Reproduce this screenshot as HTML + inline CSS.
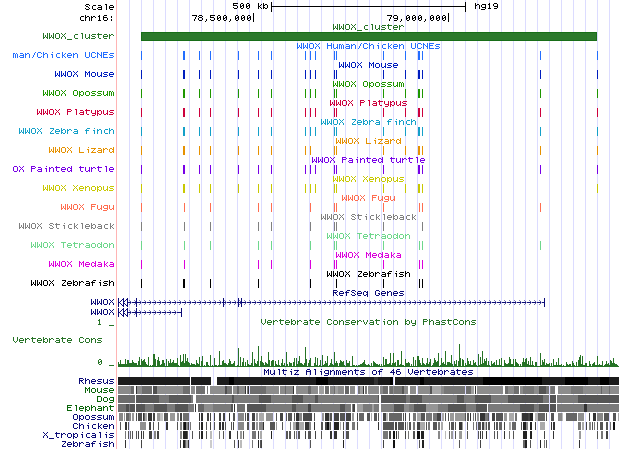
<!DOCTYPE html>
<html><head><meta charset="utf-8"><style>
html,body{margin:0;padding:0;background:#fff;width:620px;height:449px;overflow:hidden}
svg{display:block;position:absolute;left:0;top:0}
text{font-family:"Liberation Mono",monospace;font-size:10px}
</style></head><body>
<svg width="620" height="449" viewBox="0 0 620 449" shape-rendering="crispEdges">
<defs><path id="c44" d="M2 4h1v1h-1zM2 5h1v1h-1zM1 6h1v1h-1z"/><path id="c47" d="M4 0h1v1h-1zM3 1h1v1h-1zM3 2h1v1h-1zM2 3h1v1h-1zM2 4h1v1h-1zM1 5h1v1h-1z"/><path id="c48" d="M2 0h2v1h-2zM1 1h1v1h-1zM4 1h1v1h-1zM1 2h1v1h-1zM3 2h2v1h-2zM1 3h2v1h-2zM4 3h1v1h-1zM1 4h1v1h-1zM4 4h1v1h-1zM2 5h2v1h-2z"/><path id="c49" d="M2 0h1v1h-1zM1 1h2v1h-2zM2 2h1v1h-1zM2 3h1v1h-1zM2 4h1v1h-1zM1 5h3v1h-3z"/><path id="c52" d="M3 0h1v1h-1zM2 1h2v1h-2zM1 2h1v1h-1zM3 2h1v1h-1zM0 3h5v1h-5zM3 4h1v1h-1zM3 5h1v1h-1z"/><path id="c53" d="M0 0h5v1h-5zM0 1h1v1h-1zM0 2h4v1h-4zM4 3h1v1h-1zM0 4h1v1h-1zM4 4h1v1h-1zM1 5h3v1h-3z"/><path id="c54" d="M1 0h3v1h-3zM0 1h1v1h-1zM0 2h4v1h-4zM0 3h1v1h-1zM4 3h1v1h-1zM0 4h1v1h-1zM4 4h1v1h-1zM1 5h3v1h-3z"/><path id="c55" d="M0 0h5v1h-5zM4 1h1v1h-1zM3 2h1v1h-1zM3 3h1v1h-1zM2 4h1v1h-1zM2 5h1v1h-1z"/><path id="c56" d="M1 0h3v1h-3zM0 1h1v1h-1zM4 1h1v1h-1zM1 2h3v1h-3zM0 3h1v1h-1zM4 3h1v1h-1zM0 4h1v1h-1zM4 4h1v1h-1zM1 5h3v1h-3z"/><path id="c57" d="M1 0h3v1h-3zM0 1h1v1h-1zM4 1h1v1h-1zM0 2h1v1h-1zM4 2h1v1h-1zM1 3h4v1h-4zM4 4h1v1h-1zM1 5h3v1h-3z"/><path id="c58" d="M2 1h1v1h-1zM2 2h1v1h-1zM2 4h1v1h-1zM2 5h1v1h-1z"/><path id="c65" d="M1 0h3v1h-3zM0 1h1v1h-1zM4 1h1v1h-1zM0 2h5v1h-5zM0 3h1v1h-1zM4 3h1v1h-1zM0 4h1v1h-1zM4 4h1v1h-1zM0 5h1v1h-1zM4 5h1v1h-1z"/><path id="c67" d="M1 0h3v1h-3zM0 1h1v1h-1zM4 1h1v1h-1zM0 2h1v1h-1zM0 3h1v1h-1zM0 4h1v1h-1zM4 4h1v1h-1zM1 5h3v1h-3z"/><path id="c68" d="M0 0h4v1h-4zM0 1h1v1h-1zM4 1h1v1h-1zM0 2h1v1h-1zM4 2h1v1h-1zM0 3h1v1h-1zM4 3h1v1h-1zM0 4h1v1h-1zM4 4h1v1h-1zM0 5h4v1h-4z"/><path id="c69" d="M0 0h5v1h-5zM0 1h1v1h-1zM0 2h4v1h-4zM0 3h1v1h-1zM0 4h1v1h-1zM0 5h5v1h-5z"/><path id="c70" d="M0 0h5v1h-5zM0 1h1v1h-1zM0 2h4v1h-4zM0 3h1v1h-1zM0 4h1v1h-1zM0 5h1v1h-1z"/><path id="c71" d="M1 0h3v1h-3zM0 1h1v1h-1zM4 1h1v1h-1zM0 2h1v1h-1zM0 3h1v1h-1zM3 3h2v1h-2zM0 4h1v1h-1zM4 4h1v1h-1zM1 5h3v1h-3z"/><path id="c72" d="M0 0h1v1h-1zM4 0h1v1h-1zM0 1h1v1h-1zM4 1h1v1h-1zM0 2h5v1h-5zM0 3h1v1h-1zM4 3h1v1h-1zM0 4h1v1h-1zM4 4h1v1h-1zM0 5h1v1h-1zM4 5h1v1h-1z"/><path id="c76" d="M0 0h1v1h-1zM0 1h1v1h-1zM0 2h1v1h-1zM0 3h1v1h-1zM0 4h1v1h-1zM0 5h5v1h-5z"/><path id="c77" d="M0 0h1v1h-1zM4 0h1v1h-1zM0 1h2v1h-2zM3 1h2v1h-2zM0 2h1v1h-1zM2 2h1v1h-1zM4 2h1v1h-1zM0 3h1v1h-1zM2 3h1v1h-1zM4 3h1v1h-1zM0 4h1v1h-1zM4 4h1v1h-1zM0 5h1v1h-1zM4 5h1v1h-1z"/><path id="c78" d="M0 0h1v1h-1zM4 0h1v1h-1zM0 1h2v1h-2zM4 1h1v1h-1zM0 2h1v1h-1zM2 2h1v1h-1zM4 2h1v1h-1zM0 3h1v1h-1zM3 3h2v1h-2zM0 4h1v1h-1zM4 4h1v1h-1zM0 5h1v1h-1zM4 5h1v1h-1z"/><path id="c79" d="M1 0h3v1h-3zM0 1h1v1h-1zM4 1h1v1h-1zM0 2h1v1h-1zM4 2h1v1h-1zM0 3h1v1h-1zM4 3h1v1h-1zM0 4h1v1h-1zM4 4h1v1h-1zM1 5h3v1h-3z"/><path id="c80" d="M0 0h4v1h-4zM0 1h1v1h-1zM4 1h1v1h-1zM0 2h4v1h-4zM0 3h1v1h-1zM0 4h1v1h-1zM0 5h1v1h-1z"/><path id="c82" d="M0 0h4v1h-4zM0 1h1v1h-1zM4 1h1v1h-1zM0 2h4v1h-4zM0 3h1v1h-1zM2 3h1v1h-1zM0 4h1v1h-1zM3 4h1v1h-1zM0 5h1v1h-1zM4 5h1v1h-1z"/><path id="c83" d="M1 0h3v1h-3zM0 1h1v1h-1zM4 1h1v1h-1zM1 2h2v1h-2zM3 3h1v1h-1zM0 4h1v1h-1zM4 4h1v1h-1zM1 5h3v1h-3z"/><path id="c84" d="M0 0h5v1h-5zM2 1h1v1h-1zM2 2h1v1h-1zM2 3h1v1h-1zM2 4h1v1h-1zM2 5h1v1h-1z"/><path id="c85" d="M0 0h1v1h-1zM4 0h1v1h-1zM0 1h1v1h-1zM4 1h1v1h-1zM0 2h1v1h-1zM4 2h1v1h-1zM0 3h1v1h-1zM4 3h1v1h-1zM0 4h1v1h-1zM4 4h1v1h-1zM1 5h3v1h-3z"/><path id="c86" d="M0 0h1v1h-1zM4 0h1v1h-1zM0 1h1v1h-1zM4 1h1v1h-1zM0 2h1v1h-1zM4 2h1v1h-1zM0 3h1v1h-1zM4 3h1v1h-1zM1 4h1v1h-1zM3 4h1v1h-1zM2 5h1v1h-1z"/><path id="c87" d="M0 0h1v1h-1zM4 0h1v1h-1zM0 1h1v1h-1zM4 1h1v1h-1zM0 2h1v1h-1zM2 2h1v1h-1zM4 2h1v1h-1zM0 3h1v1h-1zM2 3h1v1h-1zM4 3h1v1h-1zM0 4h2v1h-2zM3 4h2v1h-2zM0 5h1v1h-1zM4 5h1v1h-1z"/><path id="c88" d="M0 0h1v1h-1zM4 0h1v1h-1zM1 1h1v1h-1zM3 1h1v1h-1zM2 2h1v1h-1zM1 3h1v1h-1zM3 3h1v1h-1zM0 4h1v1h-1zM4 4h1v1h-1zM0 5h1v1h-1zM4 5h1v1h-1z"/><path id="c90" d="M1 0h4v1h-4zM4 1h1v1h-1zM3 2h1v1h-1zM2 3h1v1h-1zM1 4h1v1h-1zM1 5h4v1h-4z"/><path id="c95" d="M0 6h5v1h-5z"/><path id="c97" d="M1 1h3v1h-3zM4 2h1v1h-1zM1 3h4v1h-4zM0 4h1v1h-1zM4 4h1v1h-1zM1 5h4v1h-4z"/><path id="c98" d="M0 0h1v1h-1zM0 1h1v1h-1zM2 1h2v1h-2zM0 2h2v1h-2zM4 2h1v1h-1zM0 3h1v1h-1zM4 3h1v1h-1zM0 4h2v1h-2zM4 4h1v1h-1zM0 5h1v1h-1zM2 5h2v1h-2z"/><path id="c99" d="M2 1h3v1h-3zM1 2h1v1h-1zM1 3h1v1h-1zM1 4h1v1h-1zM2 5h3v1h-3z"/><path id="c100" d="M4 0h1v1h-1zM1 1h2v1h-2zM4 1h1v1h-1zM0 2h1v1h-1zM3 2h2v1h-2zM0 3h1v1h-1zM4 3h1v1h-1zM0 4h1v1h-1zM3 4h2v1h-2zM1 5h2v1h-2zM4 5h1v1h-1z"/><path id="c101" d="M1 1h3v1h-3zM0 2h1v1h-1zM4 2h1v1h-1zM0 3h5v1h-5zM0 4h1v1h-1zM1 5h3v1h-3z"/><path id="c102" d="M2 0h3v1h-3zM1 1h1v1h-1zM0 2h4v1h-4zM1 3h1v1h-1zM1 4h1v1h-1zM1 5h1v1h-1z"/><path id="c103" d="M1 1h4v1h-4zM0 2h1v1h-1zM4 2h1v1h-1zM0 3h1v1h-1zM4 3h1v1h-1zM1 4h4v1h-4zM4 5h1v1h-1zM0 6h4v1h-4z"/><path id="c104" d="M0 0h1v1h-1zM0 1h1v1h-1zM2 1h2v1h-2zM0 2h2v1h-2zM4 2h1v1h-1zM0 3h1v1h-1zM4 3h1v1h-1zM0 4h1v1h-1zM4 4h1v1h-1zM0 5h1v1h-1zM4 5h1v1h-1z"/><path id="c105" d="M3 0h1v1h-1zM2 2h2v1h-2zM3 3h1v1h-1zM3 4h1v1h-1zM3 5h1v1h-1z"/><path id="c107" d="M1 0h1v1h-1zM1 1h1v1h-1zM4 1h1v1h-1zM1 2h1v1h-1zM3 2h1v1h-1zM1 3h2v1h-2zM1 4h1v1h-1zM3 4h1v1h-1zM1 5h1v1h-1zM4 5h1v1h-1z"/><path id="c108" d="M2 0h2v1h-2zM3 1h1v1h-1zM3 2h1v1h-1zM3 3h1v1h-1zM3 4h1v1h-1zM3 5h1v1h-1z"/><path id="c109" d="M0 1h2v1h-2zM3 1h1v1h-1zM0 2h1v1h-1zM2 2h1v1h-1zM4 2h1v1h-1zM0 3h1v1h-1zM2 3h1v1h-1zM4 3h1v1h-1zM0 4h1v1h-1zM2 4h1v1h-1zM4 4h1v1h-1zM0 5h1v1h-1zM2 5h1v1h-1zM4 5h1v1h-1z"/><path id="c110" d="M0 1h1v1h-1zM2 1h2v1h-2zM0 2h2v1h-2zM4 2h1v1h-1zM0 3h1v1h-1zM4 3h1v1h-1zM0 4h1v1h-1zM4 4h1v1h-1zM0 5h1v1h-1zM4 5h1v1h-1z"/><path id="c111" d="M1 1h3v1h-3zM0 2h1v1h-1zM4 2h1v1h-1zM0 3h1v1h-1zM4 3h1v1h-1zM0 4h1v1h-1zM4 4h1v1h-1zM1 5h3v1h-3z"/><path id="c112" d="M0 1h1v1h-1zM2 1h2v1h-2zM0 2h2v1h-2zM4 2h1v1h-1zM0 3h1v1h-1zM4 3h1v1h-1zM0 4h2v1h-2zM4 4h1v1h-1zM0 5h1v1h-1zM2 5h2v1h-2zM0 6h1v1h-1z"/><path id="c113" d="M1 1h2v1h-2zM4 1h1v1h-1zM0 2h1v1h-1zM3 2h2v1h-2zM0 3h1v1h-1zM4 3h1v1h-1zM0 4h1v1h-1zM3 4h2v1h-2zM1 5h2v1h-2zM4 5h1v1h-1zM4 6h1v1h-1z"/><path id="c114" d="M0 1h1v1h-1zM2 1h2v1h-2zM0 2h2v1h-2zM4 2h1v1h-1zM0 3h1v1h-1zM0 4h1v1h-1zM0 5h1v1h-1z"/><path id="c115" d="M1 1h4v1h-4zM0 2h1v1h-1zM1 3h3v1h-3zM4 4h1v1h-1zM0 5h4v1h-4z"/><path id="c116" d="M1 0h1v1h-1zM0 1h5v1h-5zM1 2h1v1h-1zM1 3h1v1h-1zM1 4h1v1h-1zM2 5h2v1h-2z"/><path id="c117" d="M0 1h1v1h-1zM4 1h1v1h-1zM0 2h1v1h-1zM4 2h1v1h-1zM0 3h1v1h-1zM4 3h1v1h-1zM0 4h1v1h-1zM3 4h2v1h-2zM1 5h2v1h-2zM4 5h1v1h-1z"/><path id="c118" d="M0 1h1v1h-1zM4 1h1v1h-1zM0 2h1v1h-1zM4 2h1v1h-1zM1 3h1v1h-1zM3 3h1v1h-1zM1 4h1v1h-1zM3 4h1v1h-1zM2 5h1v1h-1z"/><path id="c121" d="M0 1h1v1h-1zM4 1h1v1h-1zM0 2h1v1h-1zM4 2h1v1h-1zM0 3h1v1h-1zM4 3h1v1h-1zM1 4h4v1h-4zM4 5h1v1h-1zM1 6h3v1h-3z"/><path id="c122" d="M0 1h5v1h-5zM3 2h1v1h-1zM2 3h1v1h-1zM1 4h1v1h-1zM0 5h5v1h-5z"/></defs>
<path d="M129 0v449M141 0v449M153 0v449M165 0v449M177 0v449M189 0v449M201 0v449M213 0v449M225 0v449M237 0v449M249 0v449M261 0v449M273 0v449M285 0v449M297 0v449M309 0v449M321 0v449M333 0v449M345 0v449M357 0v449M369 0v449M381 0v449M393 0v449M405 0v449M417 0v449M429 0v449M441 0v449M453 0v449M465 0v449M477 0v449M489 0v449M501 0v449M513 0v449M525 0v449M537 0v449M549 0v449M561 0v449M573 0v449M585 0v449M597 0v449M609 0v449" stroke="#dcdcff" stroke-width="1" transform="translate(0.5,0)" fill="none"/>
<rect x="116" y="0" width="1" height="449" fill="#ffb4b4"/>
<g fill="#000" transform="translate(85,4)"><use href="#c83" x="0"/><use href="#c99" x="6"/><use href="#c97" x="12"/><use href="#c108" x="18"/><use href="#c101" x="24"/></g>
<g fill="#000" transform="translate(233,3)"><use href="#c53" x="0"/><use href="#c48" x="6"/><use href="#c48" x="12"/><use href="#c107" x="24"/><use href="#c98" x="30"/></g>
<rect x="271" y="2" width="1" height="10" fill="#000"/>
<rect x="465" y="2" width="1" height="10" fill="#000"/>
<rect x="271" y="6" width="195" height="1" fill="#000"/>
<g fill="#000" transform="translate(475,3)"><use href="#c104" x="0"/><use href="#c103" x="6"/><use href="#c49" x="12"/><use href="#c57" x="18"/></g>
<g fill="#000" transform="translate(79,15)"><use href="#c99" x="0"/><use href="#c104" x="6"/><use href="#c114" x="12"/><use href="#c49" x="18"/><use href="#c54" x="24"/><use href="#c58" x="30"/></g>
<g fill="#000" transform="translate(192,15)"><use href="#c55" x="0"/><use href="#c56" x="6"/><use href="#c44" x="12"/><use href="#c53" x="18"/><use href="#c48" x="24"/><use href="#c48" x="30"/><use href="#c44" x="36"/><use href="#c48" x="42"/><use href="#c48" x="48"/><use href="#c48" x="54"/></g>
<rect x="253" y="13" width="1" height="9" fill="#000"/>
<g fill="#000" transform="translate(387,15)"><use href="#c55" x="0"/><use href="#c57" x="6"/><use href="#c44" x="12"/><use href="#c48" x="18"/><use href="#c48" x="24"/><use href="#c48" x="30"/><use href="#c44" x="36"/><use href="#c48" x="42"/><use href="#c48" x="48"/><use href="#c48" x="54"/></g>
<rect x="448" y="13" width="1" height="9" fill="#000"/>
<g fill="#267326" transform="translate(333,24)"><use href="#c87" x="0"/><use href="#c87" x="6"/><use href="#c79" x="12"/><use href="#c88" x="18"/><use href="#c95" x="24"/><use href="#c99" x="30"/><use href="#c108" x="36"/><use href="#c117" x="42"/><use href="#c115" x="48"/><use href="#c116" x="54"/><use href="#c101" x="60"/><use href="#c114" x="66"/></g>
<g fill="#267326" transform="translate(43,33)"><use href="#c87" x="0"/><use href="#c87" x="6"/><use href="#c79" x="12"/><use href="#c88" x="18"/><use href="#c95" x="24"/><use href="#c99" x="30"/><use href="#c108" x="36"/><use href="#c117" x="42"/><use href="#c115" x="48"/><use href="#c116" x="54"/><use href="#c101" x="60"/><use href="#c114" x="66"/></g>
<rect x="141" y="32" width="456" height="9" fill="#186e18"/>
<rect x="142" y="33" width="454" height="7" fill="#2c792c"/>
<g fill="#236eff" transform="translate(297,43)"><use href="#c87" x="0"/><use href="#c87" x="6"/><use href="#c79" x="12"/><use href="#c88" x="18"/><use href="#c72" x="30"/><use href="#c117" x="36"/><use href="#c109" x="42"/><use href="#c97" x="48"/><use href="#c110" x="54"/><use href="#c47" x="60"/><use href="#c67" x="66"/><use href="#c104" x="72"/><use href="#c105" x="78"/><use href="#c99" x="84"/><use href="#c107" x="90"/><use href="#c101" x="96"/><use href="#c110" x="102"/><use href="#c85" x="114"/><use href="#c67" x="120"/><use href="#c78" x="126"/><use href="#c69" x="132"/><use href="#c115" x="138"/></g>
<g fill="#236eff" transform="translate(13,52)"><use href="#c109" x="0"/><use href="#c97" x="6"/><use href="#c110" x="12"/><use href="#c47" x="18"/><use href="#c67" x="24"/><use href="#c104" x="30"/><use href="#c105" x="36"/><use href="#c99" x="42"/><use href="#c107" x="48"/><use href="#c101" x="54"/><use href="#c110" x="60"/><use href="#c85" x="72"/><use href="#c67" x="78"/><use href="#c78" x="84"/><use href="#c69" x="90"/><use href="#c115" x="96"/></g>
<path d="M141 51h1v9h-1zM183 51h2v9h-2zM199 51h1v9h-1zM210 51h1v9h-1zM238 51h1v9h-1zM258 51h1v9h-1zM271 51h1v9h-1zM305 51h1v9h-1zM310 51h1v9h-1zM315 51h1v9h-1zM334 51h1v9h-1zM336 51h1v9h-1zM383 51h1v9h-1zM405 51h1v9h-1zM418 51h2v9h-2zM422 51h1v9h-1zM540 51h1v9h-1zM597 51h1v9h-1z" fill="#236eff"/>
<g fill="#001ebe" transform="translate(339,62)"><use href="#c87" x="0"/><use href="#c87" x="6"/><use href="#c79" x="12"/><use href="#c88" x="18"/><use href="#c77" x="30"/><use href="#c111" x="36"/><use href="#c117" x="42"/><use href="#c115" x="48"/><use href="#c101" x="54"/></g>
<g fill="#001ebe" transform="translate(55,71)"><use href="#c87" x="0"/><use href="#c87" x="6"/><use href="#c79" x="12"/><use href="#c88" x="18"/><use href="#c77" x="30"/><use href="#c111" x="36"/><use href="#c117" x="42"/><use href="#c115" x="48"/><use href="#c101" x="54"/></g>
<path d="M141 70h1v9h-1zM183 70h2v9h-2zM199 70h1v9h-1zM210 70h1v9h-1zM238 70h1v9h-1zM258 70h1v9h-1zM271 70h1v9h-1zM305 70h1v9h-1zM310 70h1v9h-1zM315 70h1v9h-1zM334 70h1v9h-1zM336 70h1v9h-1zM383 70h1v9h-1zM405 70h1v9h-1zM418 70h2v9h-2zM422 70h1v9h-1zM540 70h1v9h-1zM597 70h1v9h-1z" fill="#001ebe"/>
<g fill="#1e9600" transform="translate(333,81)"><use href="#c87" x="0"/><use href="#c87" x="6"/><use href="#c79" x="12"/><use href="#c88" x="18"/><use href="#c79" x="30"/><use href="#c112" x="36"/><use href="#c111" x="42"/><use href="#c115" x="48"/><use href="#c115" x="54"/><use href="#c117" x="60"/><use href="#c109" x="66"/></g>
<g fill="#1e9600" transform="translate(43,90)"><use href="#c87" x="0"/><use href="#c87" x="6"/><use href="#c79" x="12"/><use href="#c88" x="18"/><use href="#c79" x="30"/><use href="#c112" x="36"/><use href="#c111" x="42"/><use href="#c115" x="48"/><use href="#c115" x="54"/><use href="#c117" x="60"/><use href="#c109" x="66"/></g>
<path d="M141 89h1v9h-1zM183 89h2v9h-2zM199 89h1v9h-1zM210 89h1v9h-1zM238 89h1v9h-1zM258 89h1v9h-1zM271 89h1v9h-1zM305 89h1v9h-1zM310 89h1v9h-1zM315 89h1v9h-1zM334 89h1v9h-1zM336 89h1v9h-1zM383 89h1v9h-1zM405 89h1v9h-1zM418 89h2v9h-2zM422 89h1v9h-1zM540 89h1v9h-1zM597 89h1v9h-1z" fill="#1e9600"/>
<g fill="#cd003c" transform="translate(330,100)"><use href="#c87" x="0"/><use href="#c87" x="6"/><use href="#c79" x="12"/><use href="#c88" x="18"/><use href="#c80" x="30"/><use href="#c108" x="36"/><use href="#c97" x="42"/><use href="#c116" x="48"/><use href="#c121" x="54"/><use href="#c112" x="60"/><use href="#c117" x="66"/><use href="#c115" x="72"/></g>
<g fill="#cd003c" transform="translate(37,109)"><use href="#c87" x="0"/><use href="#c87" x="6"/><use href="#c79" x="12"/><use href="#c88" x="18"/><use href="#c80" x="30"/><use href="#c108" x="36"/><use href="#c97" x="42"/><use href="#c116" x="48"/><use href="#c121" x="54"/><use href="#c112" x="60"/><use href="#c117" x="66"/><use href="#c115" x="72"/></g>
<path d="M141 108h1v9h-1zM183 108h2v9h-2zM199 108h1v9h-1zM210 108h1v9h-1zM238 108h1v9h-1zM258 108h1v9h-1zM271 108h1v9h-1zM305 108h1v9h-1zM310 108h1v9h-1zM315 108h1v9h-1zM334 108h1v9h-1zM336 108h1v9h-1zM383 108h1v9h-1zM405 108h1v9h-1zM418 108h2v9h-2zM422 108h1v9h-1zM540 108h1v9h-1zM597 108h1v9h-1z" fill="#cd003c"/>
<g fill="#14a0c8" transform="translate(321,119)"><use href="#c87" x="0"/><use href="#c87" x="6"/><use href="#c79" x="12"/><use href="#c88" x="18"/><use href="#c90" x="30"/><use href="#c101" x="36"/><use href="#c98" x="42"/><use href="#c114" x="48"/><use href="#c97" x="54"/><use href="#c102" x="66"/><use href="#c105" x="72"/><use href="#c110" x="78"/><use href="#c99" x="84"/><use href="#c104" x="90"/></g>
<g fill="#14a0c8" transform="translate(19,128)"><use href="#c87" x="0"/><use href="#c87" x="6"/><use href="#c79" x="12"/><use href="#c88" x="18"/><use href="#c90" x="30"/><use href="#c101" x="36"/><use href="#c98" x="42"/><use href="#c114" x="48"/><use href="#c97" x="54"/><use href="#c102" x="66"/><use href="#c105" x="72"/><use href="#c110" x="78"/><use href="#c99" x="84"/><use href="#c104" x="90"/></g>
<path d="M141 127h1v9h-1zM183 127h2v9h-2zM199 127h1v9h-1zM210 127h1v9h-1zM238 127h1v9h-1zM258 127h1v9h-1zM271 127h1v9h-1zM305 127h1v9h-1zM310 127h1v9h-1zM315 127h1v9h-1zM334 127h1v9h-1zM336 127h1v9h-1zM383 127h1v9h-1zM405 127h1v9h-1zM418 127h2v9h-2zM422 127h1v9h-1zM540 127h1v9h-1zM597 127h1v9h-1z" fill="#14a0c8"/>
<g fill="#e69100" transform="translate(336,138)"><use href="#c87" x="0"/><use href="#c87" x="6"/><use href="#c79" x="12"/><use href="#c88" x="18"/><use href="#c76" x="30"/><use href="#c105" x="36"/><use href="#c122" x="42"/><use href="#c97" x="48"/><use href="#c114" x="54"/><use href="#c100" x="60"/></g>
<g fill="#e69100" transform="translate(49,147)"><use href="#c87" x="0"/><use href="#c87" x="6"/><use href="#c79" x="12"/><use href="#c88" x="18"/><use href="#c76" x="30"/><use href="#c105" x="36"/><use href="#c122" x="42"/><use href="#c97" x="48"/><use href="#c114" x="54"/><use href="#c100" x="60"/></g>
<path d="M141 146h1v9h-1zM183 146h2v9h-2zM199 146h1v9h-1zM210 146h1v9h-1zM238 146h1v9h-1zM258 146h1v9h-1zM271 146h1v9h-1zM305 146h1v9h-1zM310 146h1v9h-1zM334 146h1v9h-1zM336 146h1v9h-1zM383 146h1v9h-1zM405 146h1v9h-1zM418 146h2v9h-2zM422 146h1v9h-1zM540 146h1v9h-1zM597 146h1v9h-1z" fill="#e69100"/>
<g fill="#7800e6" transform="translate(312,157)"><use href="#c87" x="0"/><use href="#c87" x="6"/><use href="#c79" x="12"/><use href="#c88" x="18"/><use href="#c80" x="30"/><use href="#c97" x="36"/><use href="#c105" x="42"/><use href="#c110" x="48"/><use href="#c116" x="54"/><use href="#c101" x="60"/><use href="#c100" x="66"/><use href="#c116" x="78"/><use href="#c117" x="84"/><use href="#c114" x="90"/><use href="#c116" x="96"/><use href="#c108" x="102"/><use href="#c101" x="108"/></g>
<g fill="#7800e6" transform="translate(13,166)"><use href="#c79" x="0"/><use href="#c88" x="6"/><use href="#c80" x="18"/><use href="#c97" x="24"/><use href="#c105" x="30"/><use href="#c110" x="36"/><use href="#c116" x="42"/><use href="#c101" x="48"/><use href="#c100" x="54"/><use href="#c116" x="66"/><use href="#c117" x="72"/><use href="#c114" x="78"/><use href="#c116" x="84"/><use href="#c108" x="90"/><use href="#c101" x="96"/></g>
<path d="M141 165h1v9h-1zM183 165h2v9h-2zM199 165h1v9h-1zM210 165h1v9h-1zM238 165h1v9h-1zM258 165h1v9h-1zM271 165h1v9h-1zM305 165h1v9h-1zM310 165h1v9h-1zM315 165h1v9h-1zM334 165h1v9h-1zM336 165h1v9h-1zM383 165h1v9h-1zM418 165h2v9h-2zM422 165h1v9h-1zM540 165h1v9h-1zM597 165h1v9h-1z" fill="#7800e6"/>
<g fill="#c8c800" transform="translate(333,176)"><use href="#c87" x="0"/><use href="#c87" x="6"/><use href="#c79" x="12"/><use href="#c88" x="18"/><use href="#c88" x="30"/><use href="#c101" x="36"/><use href="#c110" x="42"/><use href="#c111" x="48"/><use href="#c112" x="54"/><use href="#c117" x="60"/><use href="#c115" x="66"/></g>
<g fill="#c8c800" transform="translate(43,185)"><use href="#c87" x="0"/><use href="#c87" x="6"/><use href="#c79" x="12"/><use href="#c88" x="18"/><use href="#c88" x="30"/><use href="#c101" x="36"/><use href="#c110" x="42"/><use href="#c111" x="48"/><use href="#c112" x="54"/><use href="#c117" x="60"/><use href="#c115" x="66"/></g>
<path d="M141 184h1v9h-1zM183 184h2v9h-2zM199 184h1v9h-1zM210 184h1v9h-1zM238 184h1v9h-1zM258 184h1v9h-1zM271 184h1v9h-1zM305 184h1v9h-1zM310 184h1v9h-1zM315 184h1v9h-1zM334 184h1v9h-1zM336 184h1v9h-1zM383 184h1v9h-1zM405 184h1v9h-1zM418 184h2v9h-2zM422 184h1v9h-1zM597 184h1v9h-1z" fill="#c8c800"/>
<g fill="#ff6e50" transform="translate(342,195)"><use href="#c87" x="0"/><use href="#c87" x="6"/><use href="#c79" x="12"/><use href="#c88" x="18"/><use href="#c70" x="30"/><use href="#c117" x="36"/><use href="#c103" x="42"/><use href="#c117" x="48"/></g>
<g fill="#ff6e50" transform="translate(61,204)"><use href="#c87" x="0"/><use href="#c87" x="6"/><use href="#c79" x="12"/><use href="#c88" x="18"/><use href="#c70" x="30"/><use href="#c117" x="36"/><use href="#c103" x="42"/><use href="#c117" x="48"/></g>
<path d="M141 203h1v9h-1zM184 203h1v9h-1zM210 203h1v9h-1zM258 203h1v9h-1zM271 203h1v9h-1zM310 203h1v9h-1zM334 203h1v9h-1zM336 203h1v9h-1zM383 203h1v9h-1zM419 203h1v9h-1zM422 203h1v9h-1zM540 203h1v9h-1z" fill="#ff6e50"/>
<g fill="#808080" transform="translate(321,214)"><use href="#c87" x="0"/><use href="#c87" x="6"/><use href="#c79" x="12"/><use href="#c88" x="18"/><use href="#c83" x="30"/><use href="#c116" x="36"/><use href="#c105" x="42"/><use href="#c99" x="48"/><use href="#c107" x="54"/><use href="#c108" x="60"/><use href="#c101" x="66"/><use href="#c98" x="72"/><use href="#c97" x="78"/><use href="#c99" x="84"/><use href="#c107" x="90"/></g>
<g fill="#808080" transform="translate(19,223)"><use href="#c87" x="0"/><use href="#c87" x="6"/><use href="#c79" x="12"/><use href="#c88" x="18"/><use href="#c83" x="30"/><use href="#c116" x="36"/><use href="#c105" x="42"/><use href="#c99" x="48"/><use href="#c107" x="54"/><use href="#c108" x="60"/><use href="#c101" x="66"/><use href="#c98" x="72"/><use href="#c97" x="78"/><use href="#c99" x="84"/><use href="#c107" x="90"/></g>
<path d="M141 222h1v9h-1zM184 222h1v9h-1zM210 222h1v9h-1zM258 222h1v9h-1zM271 222h1v9h-1zM310 222h1v9h-1zM334 222h1v9h-1zM336 222h1v9h-1zM383 222h1v9h-1zM422 222h1v9h-1z" fill="#808080"/>
<g fill="#6ed78c" transform="translate(327,233)"><use href="#c87" x="0"/><use href="#c87" x="6"/><use href="#c79" x="12"/><use href="#c88" x="18"/><use href="#c84" x="30"/><use href="#c101" x="36"/><use href="#c116" x="42"/><use href="#c114" x="48"/><use href="#c97" x="54"/><use href="#c111" x="60"/><use href="#c100" x="66"/><use href="#c111" x="72"/><use href="#c110" x="78"/></g>
<g fill="#6ed78c" transform="translate(31,242)"><use href="#c87" x="0"/><use href="#c87" x="6"/><use href="#c79" x="12"/><use href="#c88" x="18"/><use href="#c84" x="30"/><use href="#c101" x="36"/><use href="#c116" x="42"/><use href="#c114" x="48"/><use href="#c97" x="54"/><use href="#c111" x="60"/><use href="#c100" x="66"/><use href="#c111" x="72"/><use href="#c110" x="78"/></g>
<path d="M141 241h1v9h-1zM184 241h1v9h-1zM210 241h1v9h-1zM258 241h1v9h-1zM271 241h1v9h-1zM310 241h1v9h-1zM334 241h1v9h-1zM336 241h1v9h-1zM383 241h1v9h-1zM419 241h1v9h-1zM422 241h1v9h-1zM540 241h1v9h-1z" fill="#6ed78c"/>
<g fill="#dc00dc" transform="translate(336,252)"><use href="#c87" x="0"/><use href="#c87" x="6"/><use href="#c79" x="12"/><use href="#c88" x="18"/><use href="#c77" x="30"/><use href="#c101" x="36"/><use href="#c100" x="42"/><use href="#c97" x="48"/><use href="#c107" x="54"/><use href="#c97" x="60"/></g>
<g fill="#dc00dc" transform="translate(49,261)"><use href="#c87" x="0"/><use href="#c87" x="6"/><use href="#c79" x="12"/><use href="#c88" x="18"/><use href="#c77" x="30"/><use href="#c101" x="36"/><use href="#c100" x="42"/><use href="#c97" x="48"/><use href="#c107" x="54"/><use href="#c97" x="60"/></g>
<path d="M141 260h1v9h-1zM184 260h1v9h-1zM258 260h1v9h-1zM271 260h1v9h-1zM310 260h1v9h-1zM334 260h1v9h-1zM336 260h1v9h-1zM383 260h1v9h-1zM419 260h1v9h-1zM422 260h1v9h-1z" fill="#dc00dc"/>
<g fill="#000000" transform="translate(327,271)"><use href="#c87" x="0"/><use href="#c87" x="6"/><use href="#c79" x="12"/><use href="#c88" x="18"/><use href="#c90" x="30"/><use href="#c101" x="36"/><use href="#c98" x="42"/><use href="#c114" x="48"/><use href="#c97" x="54"/><use href="#c102" x="60"/><use href="#c105" x="66"/><use href="#c115" x="72"/><use href="#c104" x="78"/></g>
<g fill="#000000" transform="translate(31,280)"><use href="#c87" x="0"/><use href="#c87" x="6"/><use href="#c79" x="12"/><use href="#c88" x="18"/><use href="#c90" x="30"/><use href="#c101" x="36"/><use href="#c98" x="42"/><use href="#c114" x="48"/><use href="#c97" x="54"/><use href="#c102" x="60"/><use href="#c105" x="66"/><use href="#c115" x="72"/><use href="#c104" x="78"/></g>
<path d="M141 279h1v9h-1zM183 279h2v9h-2zM210 279h1v9h-1zM258 279h1v9h-1zM310 279h1v9h-1zM336 279h1v9h-1zM383 279h1v9h-1zM419 279h1v9h-1zM422 279h1v9h-1z" fill="#000000"/>
<g fill="#0c0c78" transform="translate(333,290)"><use href="#c82" x="0"/><use href="#c101" x="6"/><use href="#c102" x="12"/><use href="#c83" x="18"/><use href="#c101" x="24"/><use href="#c113" x="30"/><use href="#c71" x="42"/><use href="#c101" x="48"/><use href="#c110" x="54"/><use href="#c101" x="60"/><use href="#c115" x="66"/></g>
<g fill="#0c0c78" transform="translate(91,299)"><use href="#c87" x="0"/><use href="#c87" x="6"/><use href="#c79" x="12"/><use href="#c88" x="18"/></g>
<g fill="#0c0c78" transform="translate(91,309)"><use href="#c87" x="0"/><use href="#c87" x="6"/><use href="#c79" x="12"/><use href="#c88" x="18"/></g>
<path d="M118 298h1v9h-1zM123 298h1v9h-1zM127 298h1v9h-1zM119 302h1v1h-1zM120 301h1v1h-1zM120 303h1v1h-1zM121 300h1v1h-1zM121 304h1v1h-1zM122 299h1v1h-1zM122 305h1v1h-1zM124 301h1v1h-1zM124 303h1v1h-1zM125 300h1v1h-1zM125 304h1v1h-1zM126 299h1v1h-1zM126 305h1v1h-1zM128 302h416v1h-416zM136 298h1v9h-1zM223 298h1v9h-1zM238 298h1v9h-1zM241 298h1v9h-1zM544 298h1v9h-1z" fill="#0c0c78"/>
<path d="M129 300h1v1h-1zM129 304h1v1h-1zM134 300h1v1h-1zM134 304h1v1h-1zM139 300h1v1h-1zM139 304h1v1h-1zM144 300h1v1h-1zM144 304h1v1h-1zM149 300h1v1h-1zM149 304h1v1h-1zM154 300h1v1h-1zM154 304h1v1h-1zM159 300h1v1h-1zM159 304h1v1h-1zM164 300h1v1h-1zM164 304h1v1h-1zM169 300h1v1h-1zM169 304h1v1h-1zM174 300h1v1h-1zM174 304h1v1h-1zM179 300h1v1h-1zM179 304h1v1h-1zM184 300h1v1h-1zM184 304h1v1h-1zM189 300h1v1h-1zM189 304h1v1h-1zM194 300h1v1h-1zM194 304h1v1h-1zM199 300h1v1h-1zM199 304h1v1h-1zM204 300h1v1h-1zM204 304h1v1h-1zM209 300h1v1h-1zM209 304h1v1h-1zM214 300h1v1h-1zM214 304h1v1h-1zM219 300h1v1h-1zM219 304h1v1h-1zM224 300h1v1h-1zM224 304h1v1h-1zM229 300h1v1h-1zM229 304h1v1h-1zM234 300h1v1h-1zM234 304h1v1h-1zM239 300h1v1h-1zM239 304h1v1h-1zM244 300h1v1h-1zM244 304h1v1h-1zM249 300h1v1h-1zM249 304h1v1h-1zM254 300h1v1h-1zM254 304h1v1h-1zM259 300h1v1h-1zM259 304h1v1h-1zM264 300h1v1h-1zM264 304h1v1h-1zM269 300h1v1h-1zM269 304h1v1h-1zM274 300h1v1h-1zM274 304h1v1h-1zM279 300h1v1h-1zM279 304h1v1h-1zM284 300h1v1h-1zM284 304h1v1h-1zM289 300h1v1h-1zM289 304h1v1h-1zM294 300h1v1h-1zM294 304h1v1h-1zM299 300h1v1h-1zM299 304h1v1h-1zM304 300h1v1h-1zM304 304h1v1h-1zM309 300h1v1h-1zM309 304h1v1h-1zM314 300h1v1h-1zM314 304h1v1h-1zM319 300h1v1h-1zM319 304h1v1h-1zM324 300h1v1h-1zM324 304h1v1h-1zM329 300h1v1h-1zM329 304h1v1h-1zM334 300h1v1h-1zM334 304h1v1h-1zM339 300h1v1h-1zM339 304h1v1h-1zM344 300h1v1h-1zM344 304h1v1h-1zM349 300h1v1h-1zM349 304h1v1h-1zM354 300h1v1h-1zM354 304h1v1h-1zM359 300h1v1h-1zM359 304h1v1h-1zM364 300h1v1h-1zM364 304h1v1h-1zM369 300h1v1h-1zM369 304h1v1h-1zM374 300h1v1h-1zM374 304h1v1h-1zM379 300h1v1h-1zM379 304h1v1h-1zM384 300h1v1h-1zM384 304h1v1h-1zM389 300h1v1h-1zM389 304h1v1h-1zM394 300h1v1h-1zM394 304h1v1h-1zM399 300h1v1h-1zM399 304h1v1h-1zM404 300h1v1h-1zM404 304h1v1h-1zM409 300h1v1h-1zM409 304h1v1h-1zM414 300h1v1h-1zM414 304h1v1h-1zM419 300h1v1h-1zM419 304h1v1h-1zM424 300h1v1h-1zM424 304h1v1h-1zM429 300h1v1h-1zM429 304h1v1h-1zM434 300h1v1h-1zM434 304h1v1h-1zM439 300h1v1h-1zM439 304h1v1h-1zM444 300h1v1h-1zM444 304h1v1h-1zM449 300h1v1h-1zM449 304h1v1h-1zM454 300h1v1h-1zM454 304h1v1h-1zM459 300h1v1h-1zM459 304h1v1h-1zM464 300h1v1h-1zM464 304h1v1h-1zM469 300h1v1h-1zM469 304h1v1h-1zM474 300h1v1h-1zM474 304h1v1h-1zM479 300h1v1h-1zM479 304h1v1h-1zM484 300h1v1h-1zM484 304h1v1h-1zM489 300h1v1h-1zM489 304h1v1h-1zM494 300h1v1h-1zM494 304h1v1h-1zM499 300h1v1h-1zM499 304h1v1h-1zM504 300h1v1h-1zM504 304h1v1h-1zM509 300h1v1h-1zM509 304h1v1h-1zM514 300h1v1h-1zM514 304h1v1h-1zM519 300h1v1h-1zM519 304h1v1h-1zM524 300h1v1h-1zM524 304h1v1h-1zM529 300h1v1h-1zM529 304h1v1h-1zM534 300h1v1h-1zM534 304h1v1h-1zM539 300h1v1h-1zM539 304h1v1h-1z" fill="#7c7cb4"/>
<path d="M130 301h1v1h-1zM130 303h1v1h-1zM135 301h1v1h-1zM135 303h1v1h-1zM140 301h1v1h-1zM140 303h1v1h-1zM145 301h1v1h-1zM145 303h1v1h-1zM150 301h1v1h-1zM150 303h1v1h-1zM155 301h1v1h-1zM155 303h1v1h-1zM160 301h1v1h-1zM160 303h1v1h-1zM165 301h1v1h-1zM165 303h1v1h-1zM170 301h1v1h-1zM170 303h1v1h-1zM175 301h1v1h-1zM175 303h1v1h-1zM180 301h1v1h-1zM180 303h1v1h-1zM185 301h1v1h-1zM185 303h1v1h-1zM190 301h1v1h-1zM190 303h1v1h-1zM195 301h1v1h-1zM195 303h1v1h-1zM200 301h1v1h-1zM200 303h1v1h-1zM205 301h1v1h-1zM205 303h1v1h-1zM210 301h1v1h-1zM210 303h1v1h-1zM215 301h1v1h-1zM215 303h1v1h-1zM220 301h1v1h-1zM220 303h1v1h-1zM225 301h1v1h-1zM225 303h1v1h-1zM230 301h1v1h-1zM230 303h1v1h-1zM235 301h1v1h-1zM235 303h1v1h-1zM240 301h1v1h-1zM240 303h1v1h-1zM245 301h1v1h-1zM245 303h1v1h-1zM250 301h1v1h-1zM250 303h1v1h-1zM255 301h1v1h-1zM255 303h1v1h-1zM260 301h1v1h-1zM260 303h1v1h-1zM265 301h1v1h-1zM265 303h1v1h-1zM270 301h1v1h-1zM270 303h1v1h-1zM275 301h1v1h-1zM275 303h1v1h-1zM280 301h1v1h-1zM280 303h1v1h-1zM285 301h1v1h-1zM285 303h1v1h-1zM290 301h1v1h-1zM290 303h1v1h-1zM295 301h1v1h-1zM295 303h1v1h-1zM300 301h1v1h-1zM300 303h1v1h-1zM305 301h1v1h-1zM305 303h1v1h-1zM310 301h1v1h-1zM310 303h1v1h-1zM315 301h1v1h-1zM315 303h1v1h-1zM320 301h1v1h-1zM320 303h1v1h-1zM325 301h1v1h-1zM325 303h1v1h-1zM330 301h1v1h-1zM330 303h1v1h-1zM335 301h1v1h-1zM335 303h1v1h-1zM340 301h1v1h-1zM340 303h1v1h-1zM345 301h1v1h-1zM345 303h1v1h-1zM350 301h1v1h-1zM350 303h1v1h-1zM355 301h1v1h-1zM355 303h1v1h-1zM360 301h1v1h-1zM360 303h1v1h-1zM365 301h1v1h-1zM365 303h1v1h-1zM370 301h1v1h-1zM370 303h1v1h-1zM375 301h1v1h-1zM375 303h1v1h-1zM380 301h1v1h-1zM380 303h1v1h-1zM385 301h1v1h-1zM385 303h1v1h-1zM390 301h1v1h-1zM390 303h1v1h-1zM395 301h1v1h-1zM395 303h1v1h-1zM400 301h1v1h-1zM400 303h1v1h-1zM405 301h1v1h-1zM405 303h1v1h-1zM410 301h1v1h-1zM410 303h1v1h-1zM415 301h1v1h-1zM415 303h1v1h-1zM420 301h1v1h-1zM420 303h1v1h-1zM425 301h1v1h-1zM425 303h1v1h-1zM430 301h1v1h-1zM430 303h1v1h-1zM435 301h1v1h-1zM435 303h1v1h-1zM440 301h1v1h-1zM440 303h1v1h-1zM445 301h1v1h-1zM445 303h1v1h-1zM450 301h1v1h-1zM450 303h1v1h-1zM455 301h1v1h-1zM455 303h1v1h-1zM460 301h1v1h-1zM460 303h1v1h-1zM465 301h1v1h-1zM465 303h1v1h-1zM470 301h1v1h-1zM470 303h1v1h-1zM475 301h1v1h-1zM475 303h1v1h-1zM480 301h1v1h-1zM480 303h1v1h-1zM485 301h1v1h-1zM485 303h1v1h-1zM490 301h1v1h-1zM490 303h1v1h-1zM495 301h1v1h-1zM495 303h1v1h-1zM500 301h1v1h-1zM500 303h1v1h-1zM505 301h1v1h-1zM505 303h1v1h-1zM510 301h1v1h-1zM510 303h1v1h-1zM515 301h1v1h-1zM515 303h1v1h-1zM520 301h1v1h-1zM520 303h1v1h-1zM525 301h1v1h-1zM525 303h1v1h-1zM530 301h1v1h-1zM530 303h1v1h-1zM535 301h1v1h-1zM535 303h1v1h-1zM540 301h1v1h-1zM540 303h1v1h-1z" fill="#5a5aa0"/>
<path d="M131 302h1v1h-1zM141 302h1v1h-1zM146 302h1v1h-1zM151 302h1v1h-1zM156 302h1v1h-1zM161 302h1v1h-1zM166 302h1v1h-1zM171 302h1v1h-1zM176 302h1v1h-1zM181 302h1v1h-1zM186 302h1v1h-1zM191 302h1v1h-1zM196 302h1v1h-1zM201 302h1v1h-1zM206 302h1v1h-1zM211 302h1v1h-1zM216 302h1v1h-1zM221 302h1v1h-1zM226 302h1v1h-1zM231 302h1v1h-1zM236 302h1v1h-1zM246 302h1v1h-1zM251 302h1v1h-1zM256 302h1v1h-1zM261 302h1v1h-1zM266 302h1v1h-1zM271 302h1v1h-1zM276 302h1v1h-1zM281 302h1v1h-1zM286 302h1v1h-1zM291 302h1v1h-1zM296 302h1v1h-1zM301 302h1v1h-1zM306 302h1v1h-1zM311 302h1v1h-1zM316 302h1v1h-1zM321 302h1v1h-1zM326 302h1v1h-1zM331 302h1v1h-1zM336 302h1v1h-1zM341 302h1v1h-1zM346 302h1v1h-1zM351 302h1v1h-1zM356 302h1v1h-1zM361 302h1v1h-1zM366 302h1v1h-1zM371 302h1v1h-1zM376 302h1v1h-1zM381 302h1v1h-1zM386 302h1v1h-1zM391 302h1v1h-1zM396 302h1v1h-1zM401 302h1v1h-1zM406 302h1v1h-1zM411 302h1v1h-1zM416 302h1v1h-1zM421 302h1v1h-1zM426 302h1v1h-1zM431 302h1v1h-1zM436 302h1v1h-1zM441 302h1v1h-1zM446 302h1v1h-1zM451 302h1v1h-1zM456 302h1v1h-1zM461 302h1v1h-1zM466 302h1v1h-1zM471 302h1v1h-1zM476 302h1v1h-1zM481 302h1v1h-1zM486 302h1v1h-1zM491 302h1v1h-1zM496 302h1v1h-1zM501 302h1v1h-1zM506 302h1v1h-1zM511 302h1v1h-1zM516 302h1v1h-1zM521 302h1v1h-1zM526 302h1v1h-1zM531 302h1v1h-1zM536 302h1v1h-1zM541 302h1v1h-1z" fill="#b4b4d8"/>
<path d="M118 308h1v9h-1zM123 308h1v9h-1zM127 308h1v9h-1zM119 312h1v1h-1zM120 311h1v1h-1zM120 313h1v1h-1zM121 310h1v1h-1zM121 314h1v1h-1zM122 309h1v1h-1zM122 315h1v1h-1zM124 311h1v1h-1zM124 313h1v1h-1zM125 310h1v1h-1zM125 314h1v1h-1zM126 309h1v1h-1zM126 315h1v1h-1zM128 312h53v1h-53zM136 308h1v9h-1zM181 308h1v9h-1z" fill="#0c0c78"/>
<path d="M129 310h1v1h-1zM129 314h1v1h-1zM134 310h1v1h-1zM134 314h1v1h-1zM139 310h1v1h-1zM139 314h1v1h-1zM144 310h1v1h-1zM144 314h1v1h-1zM149 310h1v1h-1zM149 314h1v1h-1zM154 310h1v1h-1zM154 314h1v1h-1zM159 310h1v1h-1zM159 314h1v1h-1zM164 310h1v1h-1zM164 314h1v1h-1zM169 310h1v1h-1zM169 314h1v1h-1zM174 310h1v1h-1zM174 314h1v1h-1z" fill="#7c7cb4"/>
<path d="M130 311h1v1h-1zM130 313h1v1h-1zM135 311h1v1h-1zM135 313h1v1h-1zM140 311h1v1h-1zM140 313h1v1h-1zM145 311h1v1h-1zM145 313h1v1h-1zM150 311h1v1h-1zM150 313h1v1h-1zM155 311h1v1h-1zM155 313h1v1h-1zM160 311h1v1h-1zM160 313h1v1h-1zM165 311h1v1h-1zM165 313h1v1h-1zM170 311h1v1h-1zM170 313h1v1h-1zM175 311h1v1h-1zM175 313h1v1h-1z" fill="#5a5aa0"/>
<path d="M131 312h1v1h-1zM141 312h1v1h-1zM146 312h1v1h-1zM151 312h1v1h-1zM156 312h1v1h-1zM161 312h1v1h-1zM166 312h1v1h-1zM171 312h1v1h-1zM176 312h1v1h-1z" fill="#b4b4d8"/>
<g fill="#267326" transform="translate(261,319)"><use href="#c86" x="0"/><use href="#c101" x="6"/><use href="#c114" x="12"/><use href="#c116" x="18"/><use href="#c101" x="24"/><use href="#c98" x="30"/><use href="#c114" x="36"/><use href="#c97" x="42"/><use href="#c116" x="48"/><use href="#c101" x="54"/><use href="#c67" x="66"/><use href="#c111" x="72"/><use href="#c110" x="78"/><use href="#c115" x="84"/><use href="#c101" x="90"/><use href="#c114" x="96"/><use href="#c118" x="102"/><use href="#c97" x="108"/><use href="#c116" x="114"/><use href="#c105" x="120"/><use href="#c111" x="126"/><use href="#c110" x="132"/><use href="#c98" x="144"/><use href="#c121" x="150"/><use href="#c80" x="162"/><use href="#c104" x="168"/><use href="#c97" x="174"/><use href="#c115" x="180"/><use href="#c116" x="186"/><use href="#c67" x="192"/><use href="#c111" x="198"/><use href="#c110" x="204"/><use href="#c115" x="210"/></g>
<g fill="#267326" transform="translate(97,319)"><use href="#c49" x="0"/><use href="#c95" x="12"/></g>
<g fill="#267326" transform="translate(13,337)"><use href="#c86" x="0"/><use href="#c101" x="6"/><use href="#c114" x="12"/><use href="#c116" x="18"/><use href="#c101" x="24"/><use href="#c98" x="30"/><use href="#c114" x="36"/><use href="#c97" x="42"/><use href="#c116" x="48"/><use href="#c101" x="54"/><use href="#c67" x="66"/><use href="#c111" x="72"/><use href="#c110" x="78"/><use href="#c115" x="84"/></g>
<g fill="#267326" transform="translate(97,359)"><use href="#c48" x="0"/><use href="#c95" x="12"/></g>
<path d="M118 362h1v5h-1zM119 364h1v3h-1zM120 360h1v7h-1zM121 364h1v3h-1zM122 364h1v3h-1zM123 364h1v3h-1zM124 364h1v3h-1zM125 359h1v8h-1zM126 364h1v3h-1zM127 360h1v7h-1zM128 360h1v7h-1zM129 363h1v4h-1zM130 363h1v4h-1zM131 363h1v4h-1zM132 360h1v7h-1zM133 362h1v5h-1zM134 363h1v4h-1zM135 363h1v4h-1zM136 363h1v4h-1zM137 365h1v2h-1zM138 361h1v6h-1zM139 357h1v10h-1zM140 365h1v2h-1zM141 359h1v8h-1zM142 361h1v6h-1zM143 360h1v7h-1zM144 359h1v8h-1zM145 362h1v5h-1zM146 364h1v3h-1zM147 365h1v2h-1zM148 357h1v10h-1zM149 366h1v1h-1zM150 365h1v2h-1zM151 366h1v1h-1zM152 365h1v2h-1zM153 354h1v13h-1zM154 354h1v13h-1zM155 359h1v8h-1zM156 366h1v1h-1zM157 360h1v7h-1zM158 357h1v10h-1zM159 361h1v6h-1zM160 365h1v2h-1zM161 364h1v3h-1zM162 360h1v7h-1zM163 360h1v7h-1zM164 363h1v4h-1zM165 366h1v1h-1zM166 359h1v8h-1zM167 366h1v1h-1zM168 361h1v6h-1zM169 363h1v4h-1zM170 359h1v8h-1zM171 363h1v4h-1zM172 362h1v5h-1zM173 360h1v7h-1zM174 363h1v4h-1zM175 363h1v4h-1zM176 363h1v4h-1zM177 358h1v9h-1zM178 365h1v2h-1zM179 366h1v1h-1zM180 355h1v12h-1zM181 362h1v5h-1zM182 361h1v6h-1zM183 354h1v13h-1zM184 363h1v4h-1zM185 354h1v13h-1zM186 361h1v6h-1zM187 358h1v9h-1zM188 362h1v5h-1zM189 363h1v4h-1zM190 365h1v2h-1zM191 363h1v4h-1zM192 364h1v3h-1zM193 364h1v3h-1zM194 364h1v3h-1zM195 365h1v2h-1zM196 360h1v7h-1zM197 363h1v4h-1zM198 364h1v3h-1zM199 357h1v10h-1zM200 366h1v1h-1zM201 361h1v6h-1zM202 356h1v11h-1zM203 366h1v1h-1zM204 365h1v2h-1zM205 366h1v1h-1zM206 362h1v5h-1zM207 362h1v5h-1zM208 365h1v2h-1zM209 366h1v1h-1zM210 355h1v12h-1zM211 366h1v1h-1zM212 365h1v2h-1zM213 366h1v1h-1zM214 358h1v9h-1zM215 365h1v2h-1zM216 365h1v2h-1zM217 366h1v1h-1zM218 365h1v2h-1zM219 351h1v16h-1zM220 365h1v2h-1zM221 365h1v2h-1zM222 361h1v6h-1zM223 360h1v7h-1zM224 363h1v4h-1zM225 363h1v4h-1zM226 364h1v3h-1zM227 365h1v2h-1zM228 363h1v4h-1zM229 359h1v8h-1zM230 361h1v6h-1zM231 364h1v3h-1zM232 364h1v3h-1zM233 363h1v4h-1zM234 361h1v6h-1zM235 366h1v1h-1zM236 366h1v1h-1zM237 365h1v2h-1zM238 348h1v19h-1zM239 366h1v1h-1zM240 357h1v10h-1zM241 366h1v1h-1zM242 362h1v5h-1zM243 358h1v9h-1zM244 366h1v1h-1zM245 362h1v5h-1zM246 366h1v1h-1zM247 360h1v7h-1zM248 364h1v3h-1zM249 365h1v2h-1zM250 365h1v2h-1zM251 363h1v4h-1zM252 352h1v15h-1zM253 366h1v1h-1zM254 359h1v8h-1zM255 363h1v4h-1zM256 364h1v3h-1zM257 361h1v6h-1zM258 346h1v21h-1zM259 366h1v1h-1zM260 361h1v6h-1zM261 356h1v11h-1zM262 362h1v5h-1zM263 363h1v4h-1zM264 365h1v2h-1zM265 362h1v5h-1zM266 363h1v4h-1zM267 364h1v3h-1zM268 352h1v15h-1zM269 360h1v7h-1zM270 366h1v1h-1zM271 361h1v6h-1zM272 360h1v7h-1zM273 360h1v7h-1zM274 366h1v1h-1zM275 361h1v6h-1zM276 364h1v3h-1zM277 365h1v2h-1zM278 360h1v7h-1zM279 365h1v2h-1zM280 366h1v1h-1zM281 363h1v4h-1zM282 359h1v8h-1zM283 365h1v2h-1zM284 363h1v4h-1zM285 366h1v1h-1zM286 352h1v15h-1zM287 364h1v3h-1zM288 366h1v1h-1zM289 362h1v5h-1zM290 363h1v4h-1zM291 363h1v4h-1zM292 366h1v1h-1zM293 362h1v5h-1zM294 358h1v9h-1zM295 366h1v1h-1zM296 358h1v9h-1zM297 364h1v3h-1zM298 361h1v6h-1zM299 356h1v11h-1zM300 363h1v4h-1zM301 363h1v4h-1zM302 364h1v3h-1zM303 365h1v2h-1zM304 363h1v4h-1zM305 347h1v20h-1zM306 359h1v8h-1zM307 366h1v1h-1zM308 363h1v4h-1zM309 360h1v7h-1zM310 358h1v9h-1zM311 366h1v1h-1zM312 366h1v1h-1zM313 366h1v1h-1zM314 363h1v4h-1zM315 357h1v10h-1zM316 365h1v2h-1zM317 358h1v9h-1zM318 366h1v1h-1zM319 365h1v2h-1zM320 360h1v7h-1zM321 366h1v1h-1zM322 355h1v12h-1zM323 365h1v2h-1zM324 364h1v3h-1zM325 361h1v6h-1zM326 363h1v4h-1zM327 356h1v11h-1zM328 366h1v1h-1zM329 365h1v2h-1zM330 363h1v4h-1zM331 359h1v8h-1zM332 364h1v3h-1zM333 365h1v2h-1zM334 352h1v15h-1zM335 363h1v4h-1zM336 361h1v6h-1zM337 363h1v4h-1zM338 366h1v1h-1zM339 363h1v4h-1zM340 360h1v7h-1zM341 361h1v6h-1zM342 362h1v5h-1zM343 361h1v6h-1zM344 365h1v2h-1zM345 366h1v1h-1zM346 360h1v7h-1zM347 363h1v4h-1zM348 363h1v4h-1zM349 361h1v6h-1zM350 366h1v1h-1zM351 366h1v1h-1zM352 356h1v11h-1zM353 365h1v2h-1zM354 365h1v2h-1zM355 366h1v1h-1zM356 365h1v2h-1zM357 366h1v1h-1zM358 365h1v2h-1zM359 365h1v2h-1zM360 364h1v3h-1zM361 364h1v3h-1zM362 363h1v4h-1zM363 362h1v5h-1zM364 360h1v7h-1zM365 364h1v3h-1zM366 365h1v2h-1zM367 365h1v2h-1zM368 364h1v3h-1zM369 365h1v2h-1zM370 366h1v1h-1zM371 363h1v4h-1zM372 366h1v1h-1zM373 361h1v6h-1zM374 362h1v5h-1zM375 363h1v4h-1zM376 364h1v3h-1zM377 364h1v3h-1zM378 365h1v2h-1zM379 364h1v3h-1zM380 366h1v1h-1zM381 364h1v3h-1zM382 366h1v1h-1zM383 357h1v10h-1zM384 365h1v2h-1zM385 359h1v8h-1zM386 359h1v8h-1zM387 364h1v3h-1zM388 364h1v3h-1zM389 363h1v4h-1zM390 353h1v14h-1zM391 365h1v2h-1zM392 363h1v4h-1zM393 353h1v14h-1zM394 363h1v4h-1zM395 362h1v5h-1zM396 366h1v1h-1zM397 360h1v7h-1zM398 360h1v7h-1zM399 365h1v2h-1zM400 364h1v3h-1zM401 351h1v16h-1zM402 365h1v2h-1zM403 365h1v2h-1zM404 366h1v1h-1zM405 359h1v8h-1zM406 363h1v4h-1zM407 363h1v4h-1zM408 362h1v5h-1zM409 363h1v4h-1zM410 366h1v1h-1zM411 364h1v3h-1zM412 366h1v1h-1zM413 357h1v10h-1zM414 366h1v1h-1zM415 360h1v7h-1zM416 366h1v1h-1zM417 356h1v11h-1zM418 356h1v11h-1zM419 360h1v7h-1zM420 363h1v4h-1zM421 365h1v2h-1zM422 358h1v9h-1zM423 363h1v4h-1zM424 364h1v3h-1zM425 365h1v2h-1zM426 363h1v4h-1zM427 358h1v9h-1zM428 364h1v3h-1zM429 362h1v5h-1zM430 359h1v8h-1zM431 366h1v1h-1zM432 365h1v2h-1zM433 363h1v4h-1zM434 358h1v9h-1zM435 360h1v7h-1zM436 362h1v5h-1zM437 361h1v6h-1zM438 353h1v14h-1zM439 366h1v1h-1zM440 365h1v2h-1zM441 358h1v9h-1zM442 363h1v4h-1zM443 362h1v5h-1zM444 364h1v3h-1zM445 351h1v16h-1zM446 365h1v2h-1zM447 362h1v5h-1zM448 362h1v5h-1zM449 362h1v5h-1zM450 363h1v4h-1zM451 355h1v12h-1zM452 364h1v3h-1zM453 366h1v1h-1zM454 361h1v6h-1zM455 364h1v3h-1zM456 360h1v7h-1zM457 366h1v1h-1zM458 361h1v6h-1zM459 344h1v23h-1zM460 358h1v9h-1zM461 366h1v1h-1zM462 359h1v8h-1zM463 360h1v7h-1zM464 366h1v1h-1zM465 363h1v4h-1zM466 365h1v2h-1zM467 358h1v9h-1zM468 361h1v6h-1zM469 364h1v3h-1zM470 361h1v6h-1zM471 365h1v2h-1zM472 365h1v2h-1zM473 360h1v7h-1zM474 363h1v4h-1zM475 362h1v5h-1zM476 365h1v2h-1zM477 366h1v1h-1zM478 354h1v13h-1zM479 365h1v2h-1zM480 357h1v10h-1zM481 364h1v3h-1zM482 351h1v16h-1zM483 363h1v4h-1zM484 359h1v8h-1zM485 361h1v6h-1zM486 358h1v9h-1zM487 365h1v2h-1zM488 361h1v6h-1zM489 365h1v2h-1zM490 366h1v1h-1zM491 361h1v6h-1zM492 364h1v3h-1zM493 363h1v4h-1zM494 362h1v5h-1zM495 365h1v2h-1zM496 360h1v7h-1zM497 365h1v2h-1zM498 365h1v2h-1zM499 359h1v8h-1zM500 365h1v2h-1zM501 358h1v9h-1zM502 366h1v1h-1zM503 366h1v1h-1zM504 360h1v7h-1zM505 363h1v4h-1zM506 364h1v3h-1zM507 364h1v3h-1zM508 363h1v4h-1zM509 357h1v10h-1zM510 359h1v8h-1zM511 364h1v3h-1zM512 364h1v3h-1zM513 359h1v8h-1zM514 366h1v1h-1zM515 359h1v8h-1zM516 362h1v5h-1zM517 363h1v4h-1zM518 364h1v3h-1zM519 366h1v1h-1zM520 364h1v3h-1zM521 366h1v1h-1zM522 362h1v5h-1zM523 358h1v9h-1zM524 362h1v5h-1zM525 359h1v8h-1zM526 358h1v9h-1zM527 364h1v3h-1zM528 361h1v6h-1zM529 365h1v2h-1zM530 357h1v10h-1zM531 365h1v2h-1zM532 361h1v6h-1zM533 365h1v2h-1zM534 366h1v1h-1zM535 362h1v5h-1zM536 362h1v5h-1zM537 366h1v1h-1zM538 366h1v1h-1zM539 366h1v1h-1zM540 353h1v14h-1zM541 365h1v2h-1zM542 360h1v7h-1zM543 362h1v5h-1zM544 359h1v8h-1zM545 365h1v2h-1zM546 363h1v4h-1zM547 364h1v3h-1zM548 364h1v3h-1zM549 363h1v4h-1zM550 366h1v1h-1zM551 363h1v4h-1zM552 366h1v1h-1zM553 359h1v8h-1zM554 365h1v2h-1zM555 365h1v2h-1zM556 362h1v5h-1zM557 365h1v2h-1zM558 358h1v9h-1zM559 365h1v2h-1zM560 365h1v2h-1zM561 364h1v3h-1zM562 366h1v1h-1zM563 365h1v2h-1zM564 366h1v1h-1zM565 366h1v1h-1zM566 362h1v5h-1zM567 364h1v3h-1zM568 365h1v2h-1zM569 364h1v3h-1zM570 364h1v3h-1zM571 366h1v1h-1zM572 361h1v6h-1zM573 363h1v4h-1zM574 365h1v2h-1zM575 366h1v1h-1zM576 362h1v5h-1zM577 366h1v1h-1zM578 360h1v7h-1zM579 357h1v10h-1zM580 355h1v12h-1zM581 364h1v3h-1zM582 356h1v11h-1zM583 365h1v2h-1zM584 365h1v2h-1zM585 363h1v4h-1zM586 363h1v4h-1zM587 366h1v1h-1zM588 366h1v1h-1zM589 361h1v6h-1zM590 364h1v3h-1zM591 366h1v1h-1zM592 364h1v3h-1zM593 363h1v4h-1zM594 362h1v5h-1zM595 365h1v2h-1zM596 365h1v2h-1zM597 356h1v11h-1zM598 365h1v2h-1zM599 364h1v3h-1zM600 365h1v2h-1zM601 365h1v2h-1zM602 361h1v6h-1zM603 366h1v1h-1zM604 365h1v2h-1zM605 364h1v3h-1zM606 361h1v6h-1zM607 364h1v3h-1zM608 363h1v4h-1zM609 365h1v2h-1zM610 360h1v7h-1zM611 361h1v6h-1zM612 363h1v4h-1zM613 358h1v9h-1zM614 363h1v4h-1zM615 364h1v3h-1zM616 364h1v3h-1zM617 365h1v2h-1zM618 366h1v1h-1z" fill="#267326"/>
<g fill="#0c0c78" transform="translate(264,369)"><use href="#c77" x="0"/><use href="#c117" x="6"/><use href="#c108" x="12"/><use href="#c116" x="18"/><use href="#c105" x="24"/><use href="#c122" x="30"/><use href="#c65" x="42"/><use href="#c108" x="48"/><use href="#c105" x="54"/><use href="#c103" x="60"/><use href="#c110" x="66"/><use href="#c109" x="72"/><use href="#c101" x="78"/><use href="#c110" x="84"/><use href="#c116" x="90"/><use href="#c115" x="96"/><use href="#c111" x="108"/><use href="#c102" x="114"/><use href="#c52" x="126"/><use href="#c54" x="132"/><use href="#c86" x="144"/><use href="#c101" x="150"/><use href="#c114" x="156"/><use href="#c116" x="162"/><use href="#c101" x="168"/><use href="#c98" x="174"/><use href="#c114" x="180"/><use href="#c97" x="186"/><use href="#c116" x="192"/><use href="#c101" x="198"/><use href="#c115" x="204"/></g>
<g fill="#0c0c78" transform="translate(79,378)"><use href="#c82" x="0"/><use href="#c104" x="6"/><use href="#c101" x="12"/><use href="#c115" x="18"/><use href="#c117" x="24"/><use href="#c115" x="30"/></g>
<rect x="118" y="377" width="72" height="8" fill="#1c1c1c"/>
<rect x="191" y="377" width="20" height="8" fill="#1c1c1c"/>
<rect x="217" y="377" width="12" height="8" fill="#1c1c1c"/>
<rect x="229" y="377" width="5" height="8" fill="#000000"/>
<rect x="234" y="377" width="82" height="8" fill="#1c1c1c"/>
<rect x="316" y="377" width="12" height="8" fill="#000000"/>
<rect x="328" y="377" width="46" height="8" fill="#1c1c1c"/>
<rect x="374" y="377" width="4" height="8" fill="#333333"/>
<rect x="378" y="377" width="12" height="8" fill="#1c1c1c"/>
<rect x="390" y="377" width="3" height="8" fill="#000000"/>
<rect x="395" y="377" width="25" height="8" fill="#1c1c1c"/>
<rect x="420" y="377" width="4" height="8" fill="#000000"/>
<rect x="424" y="377" width="59" height="8" fill="#1c1c1c"/>
<rect x="483" y="377" width="59" height="8" fill="#000000"/>
<rect x="542" y="377" width="23" height="8" fill="#1c1c1c"/>
<rect x="565" y="377" width="23" height="8" fill="#000000"/>
<rect x="588" y="377" width="12" height="8" fill="#1c1c1c"/>
<rect x="600" y="377" width="9" height="8" fill="#000000"/>
<rect x="609" y="377" width="10" height="8" fill="#1c1c1c"/>
<g fill="#0a640a" transform="translate(85,387)"><use href="#c77" x="0"/><use href="#c111" x="6"/><use href="#c117" x="12"/><use href="#c115" x="18"/><use href="#c101" x="24"/></g>
<rect x="118" y="386" width="13" height="8" fill="#8a8a8a"/>
<rect x="131" y="386" width="3" height="8" fill="#6a6a6a"/>
<rect x="136" y="386" width="1" height="8" fill="#333333"/>
<rect x="137" y="386" width="5" height="8" fill="#8c8c8c"/>
<rect x="142" y="386" width="10" height="8" fill="#6e6e6e"/>
<rect x="153" y="386" width="4" height="8" fill="#505050"/>
<rect x="157" y="386" width="26" height="8" fill="#8e8e8e"/>
<rect x="183" y="386" width="7" height="8" fill="#6e6e6e"/>
<rect x="191" y="386" width="4" height="8" fill="#8c8c8c"/>
<rect x="196" y="386" width="9" height="8" fill="#707070"/>
<rect x="207" y="386" width="1" height="8" fill="#777777"/>
<rect x="210" y="386" width="15" height="8" fill="#8e8e8e"/>
<rect x="225" y="386" width="2" height="8" fill="#505050"/>
<rect x="227" y="386" width="5" height="8" fill="#777777"/>
<rect x="233" y="386" width="4" height="8" fill="#8e8e8e"/>
<rect x="237" y="386" width="2" height="8" fill="#666666"/>
<rect x="239" y="386" width="6" height="8" fill="#8e8e8e"/>
<rect x="245" y="386" width="1" height="8" fill="#333333"/>
<rect x="247" y="386" width="1" height="8" fill="#777777"/>
<rect x="248" y="386" width="1" height="8" fill="#333333"/>
<rect x="250" y="386" width="16" height="8" fill="#6e6e6e"/>
<rect x="266" y="386" width="13" height="8" fill="#8c8c8c"/>
<rect x="280" y="386" width="5" height="8" fill="#8c8c8c"/>
<rect x="285" y="386" width="1" height="8" fill="#6a6a6a"/>
<rect x="286" y="386" width="7" height="8" fill="#8c8c8c"/>
<rect x="293" y="386" width="1" height="8" fill="#333333"/>
<rect x="296" y="386" width="12" height="8" fill="#8e8e8e"/>
<rect x="308" y="386" width="3" height="8" fill="#6a6a6a"/>
<rect x="311" y="386" width="7" height="8" fill="#8e8e8e"/>
<rect x="319" y="386" width="5" height="8" fill="#a0a0a0"/>
<rect x="325" y="386" width="4" height="8" fill="#6e6e6e"/>
<rect x="330" y="386" width="4" height="8" fill="#8c8c8c"/>
<rect x="334" y="386" width="1" height="8" fill="#6e6e6e"/>
<rect x="335" y="386" width="3" height="8" fill="#a0a0a0"/>
<rect x="338" y="386" width="6" height="8" fill="#8c8c8c"/>
<rect x="345" y="386" width="4" height="8" fill="#666666"/>
<rect x="350" y="386" width="5" height="8" fill="#8c8c8c"/>
<rect x="358" y="386" width="2" height="8" fill="#777777"/>
<rect x="360" y="386" width="3" height="8" fill="#a0a0a0"/>
<rect x="363" y="386" width="1" height="8" fill="#333333"/>
<rect x="365" y="386" width="2" height="8" fill="#777777"/>
<rect x="368" y="386" width="11" height="8" fill="#8c8c8c"/>
<rect x="380" y="386" width="3" height="8" fill="#8c8c8c"/>
<rect x="383" y="386" width="5" height="8" fill="#6e6e6e"/>
<rect x="389" y="386" width="1" height="8" fill="#8c8c8c"/>
<rect x="390" y="386" width="3" height="8" fill="#6e6e6e"/>
<rect x="393" y="386" width="1" height="8" fill="#8c8c8c"/>
<rect x="394" y="386" width="8" height="8" fill="#777777"/>
<rect x="402" y="386" width="2" height="8" fill="#555555"/>
<rect x="404" y="386" width="4" height="8" fill="#8c8c8c"/>
<rect x="410" y="386" width="6" height="8" fill="#8c8c8c"/>
<rect x="418" y="386" width="12" height="8" fill="#8c8c8c"/>
<rect x="430" y="386" width="2" height="8" fill="#555555"/>
<rect x="432" y="386" width="9" height="8" fill="#a8a8a8"/>
<rect x="441" y="386" width="3" height="8" fill="#8c8c8c"/>
<rect x="444" y="386" width="21" height="8" fill="#777777"/>
<rect x="466" y="386" width="5" height="8" fill="#6e6e6e"/>
<rect x="471" y="386" width="3" height="8" fill="#a0a0a0"/>
<rect x="475" y="386" width="1" height="8" fill="#333333"/>
<rect x="477" y="386" width="26" height="8" fill="#8c8c8c"/>
<rect x="505" y="386" width="3" height="8" fill="#6e6e6e"/>
<rect x="508" y="386" width="6" height="8" fill="#8c8c8c"/>
<rect x="514" y="386" width="5" height="8" fill="#6e6e6e"/>
<rect x="520" y="386" width="3" height="8" fill="#8c8c8c"/>
<rect x="523" y="386" width="11" height="8" fill="#777777"/>
<rect x="534" y="386" width="5" height="8" fill="#8c8c8c"/>
<rect x="539" y="386" width="7" height="8" fill="#555555"/>
<rect x="546" y="386" width="3" height="8" fill="#777777"/>
<rect x="550" y="386" width="1" height="8" fill="#8c8c8c"/>
<rect x="551" y="386" width="4" height="8" fill="#777777"/>
<rect x="558" y="386" width="13" height="8" fill="#8c8c8c"/>
<rect x="571" y="386" width="12" height="8" fill="#777777"/>
<rect x="583" y="386" width="18" height="8" fill="#8c8c8c"/>
<rect x="601" y="386" width="1" height="8" fill="#666666"/>
<rect x="602" y="386" width="7" height="8" fill="#8c8c8c"/>
<rect x="609" y="386" width="1" height="8" fill="#6e6e6e"/>
<rect x="610" y="386" width="9" height="8" fill="#8c8c8c"/>
<g fill="#0a640a" transform="translate(97,396)"><use href="#c68" x="0"/><use href="#c111" x="6"/><use href="#c103" x="12"/></g>
<rect x="118" y="395" width="17" height="8" fill="#6c6c6c"/>
<rect x="136" y="395" width="23" height="8" fill="#585858"/>
<rect x="159" y="395" width="10" height="8" fill="#787878"/>
<rect x="169" y="395" width="22" height="8" fill="#5a5a5a"/>
<rect x="191" y="395" width="2" height="8" fill="#7a7a7a"/>
<rect x="196" y="395" width="36" height="8" fill="#7a7a7a"/>
<rect x="232" y="395" width="2" height="8" fill="#555555"/>
<rect x="234" y="395" width="25" height="8" fill="#7a7a7a"/>
<rect x="259" y="395" width="12" height="8" fill="#555555"/>
<rect x="271" y="395" width="21" height="8" fill="#7a7a7a"/>
<rect x="292" y="395" width="11" height="8" fill="#555555"/>
<rect x="303" y="395" width="12" height="8" fill="#7a7a7a"/>
<rect x="315" y="395" width="3" height="8" fill="#555555"/>
<rect x="318" y="395" width="60" height="8" fill="#7a7a7a"/>
<rect x="378" y="395" width="1" height="8" fill="#555555"/>
<rect x="381" y="395" width="25" height="8" fill="#555555"/>
<rect x="406" y="395" width="4" height="8" fill="#777777"/>
<rect x="410" y="395" width="12" height="8" fill="#555555"/>
<rect x="422" y="395" width="35" height="8" fill="#7a7a7a"/>
<rect x="457" y="395" width="7" height="8" fill="#555555"/>
<rect x="464" y="395" width="11" height="8" fill="#7a7a7a"/>
<rect x="475" y="395" width="16" height="8" fill="#555555"/>
<rect x="491" y="395" width="17" height="8" fill="#7a7a7a"/>
<rect x="508" y="395" width="35" height="8" fill="#555555"/>
<rect x="543" y="395" width="6" height="8" fill="#777777"/>
<rect x="550" y="395" width="6" height="8" fill="#555555"/>
<rect x="557" y="395" width="21" height="8" fill="#7a7a7a"/>
<rect x="578" y="395" width="41" height="8" fill="#555555"/>
<g fill="#0a640a" transform="translate(67,405)"><use href="#c69" x="0"/><use href="#c108" x="6"/><use href="#c101" x="12"/><use href="#c112" x="18"/><use href="#c104" x="24"/><use href="#c97" x="30"/><use href="#c110" x="36"/><use href="#c116" x="42"/></g>
<rect x="118" y="404" width="8" height="8" fill="#707070"/>
<rect x="126" y="404" width="3" height="8" fill="#505050"/>
<rect x="129" y="404" width="1" height="8" fill="#787878"/>
<rect x="130" y="404" width="5" height="8" fill="#555555"/>
<rect x="136" y="404" width="9" height="8" fill="#555555"/>
<rect x="145" y="404" width="9" height="8" fill="#787878"/>
<rect x="154" y="404" width="13" height="8" fill="#555555"/>
<rect x="167" y="404" width="8" height="8" fill="#7a7a7a"/>
<rect x="175" y="404" width="13" height="8" fill="#555555"/>
<rect x="188" y="404" width="6" height="8" fill="#7a7a7a"/>
<rect x="195" y="404" width="1" height="8" fill="#333333"/>
<rect x="198" y="404" width="6" height="8" fill="#666666"/>
<rect x="204" y="404" width="9" height="8" fill="#8e8e8e"/>
<rect x="213" y="404" width="18" height="8" fill="#7a7a7a"/>
<rect x="231" y="404" width="2" height="8" fill="#555555"/>
<rect x="234" y="404" width="1" height="8" fill="#333333"/>
<rect x="237" y="404" width="8" height="8" fill="#707070"/>
<rect x="247" y="404" width="19" height="8" fill="#555555"/>
<rect x="266" y="404" width="26" height="8" fill="#7a7a7a"/>
<rect x="292" y="404" width="4" height="8" fill="#555555"/>
<rect x="296" y="404" width="12" height="8" fill="#7a7a7a"/>
<rect x="308" y="404" width="3" height="8" fill="#444444"/>
<rect x="311" y="404" width="29" height="8" fill="#7a7a7a"/>
<rect x="340" y="404" width="5" height="8" fill="#555555"/>
<rect x="345" y="404" width="6" height="8" fill="#7a7a7a"/>
<rect x="352" y="404" width="1" height="8" fill="#7a7a7a"/>
<rect x="353" y="404" width="2" height="8" fill="#444444"/>
<rect x="357" y="404" width="6" height="8" fill="#a0a0a0"/>
<rect x="363" y="404" width="9" height="8" fill="#7a7a7a"/>
<rect x="372" y="404" width="2" height="8" fill="#a0a0a0"/>
<rect x="374" y="404" width="5" height="8" fill="#7a7a7a"/>
<rect x="381" y="404" width="13" height="8" fill="#808080"/>
<rect x="394" y="404" width="10" height="8" fill="#555555"/>
<rect x="404" y="404" width="5" height="8" fill="#8c8c8c"/>
<rect x="409" y="404" width="5" height="8" fill="#7a7a7a"/>
<rect x="414" y="404" width="12" height="8" fill="#555555"/>
<rect x="426" y="404" width="12" height="8" fill="#969696"/>
<rect x="438" y="404" width="10" height="8" fill="#7a7a7a"/>
<rect x="448" y="404" width="18" height="8" fill="#555555"/>
<rect x="466" y="404" width="10" height="8" fill="#7a7a7a"/>
<rect x="476" y="404" width="11" height="8" fill="#555555"/>
<rect x="488" y="404" width="32" height="8" fill="#7a7a7a"/>
<rect x="520" y="404" width="14" height="8" fill="#555555"/>
<rect x="534" y="404" width="5" height="8" fill="#777777"/>
<rect x="539" y="404" width="10" height="8" fill="#555555"/>
<rect x="550" y="404" width="6" height="8" fill="#555555"/>
<rect x="557" y="404" width="27" height="8" fill="#7a7a7a"/>
<rect x="584" y="404" width="3" height="8" fill="#333333"/>
<rect x="587" y="404" width="32" height="8" fill="#7a7a7a"/>
<g fill="#0c0c78" transform="translate(73,414)"><use href="#c79" x="0"/><use href="#c112" x="6"/><use href="#c111" x="12"/><use href="#c115" x="18"/><use href="#c115" x="24"/><use href="#c117" x="30"/><use href="#c109" x="36"/></g>
<rect x="119" y="413" width="4" height="8" fill="#888888"/>
<rect x="124" y="413" width="1" height="8" fill="#999999"/>
<rect x="126" y="413" width="3" height="8" fill="#666666"/>
<rect x="129" y="413" width="2" height="8" fill="#888888"/>
<rect x="132" y="413" width="2" height="8" fill="#999999"/>
<rect x="136" y="413" width="1" height="8" fill="#555555"/>
<rect x="138" y="413" width="4" height="8" fill="#4c4c4c"/>
<rect x="143" y="413" width="1" height="8" fill="#333333"/>
<rect x="144" y="413" width="1" height="8" fill="#666666"/>
<rect x="145" y="413" width="2" height="8" fill="#aaaaaa"/>
<rect x="148" y="413" width="4" height="8" fill="#333333"/>
<rect x="153" y="413" width="2" height="8" fill="#444444"/>
<rect x="157" y="413" width="3" height="8" fill="#999999"/>
<rect x="160" y="413" width="3" height="8" fill="#c4c4c4"/>
<rect x="164" y="413" width="4" height="8" fill="#555555"/>
<rect x="170" y="413" width="5" height="8" fill="#999999"/>
<rect x="177" y="413" width="2" height="8" fill="#888888"/>
<rect x="180" y="413" width="2" height="8" fill="#444444"/>
<rect x="183" y="413" width="6" height="8" fill="#707070"/>
<rect x="199" y="413" width="1" height="8" fill="#333333"/>
<rect x="201" y="413" width="2" height="8" fill="#333333"/>
<rect x="207" y="413" width="2" height="8" fill="#444444"/>
<rect x="210" y="413" width="1" height="8" fill="#444444"/>
<rect x="214" y="413" width="1" height="8" fill="#444444"/>
<rect x="219" y="413" width="2" height="8" fill="#444444"/>
<rect x="223" y="413" width="2" height="8" fill="#444444"/>
<rect x="229" y="413" width="1" height="8" fill="#333333"/>
<rect x="233" y="413" width="2" height="8" fill="#555555"/>
<rect x="238" y="413" width="6" height="8" fill="#888888"/>
<rect x="245" y="413" width="1" height="8" fill="#555555"/>
<rect x="247" y="413" width="2" height="8" fill="#444444"/>
<rect x="252" y="413" width="3" height="8" fill="#444444"/>
<rect x="256" y="413" width="2" height="8" fill="#999999"/>
<rect x="259" y="413" width="5" height="8" fill="#aaaaaa"/>
<rect x="266" y="413" width="7" height="8" fill="#909090"/>
<rect x="276" y="413" width="1" height="8" fill="#555555"/>
<rect x="280" y="413" width="3" height="8" fill="#444444"/>
<rect x="286" y="413" width="1" height="8" fill="#555555"/>
<rect x="288" y="413" width="4" height="8" fill="#555555"/>
<rect x="294" y="413" width="1" height="8" fill="#555555"/>
<rect x="296" y="413" width="3" height="8" fill="#333333"/>
<rect x="299" y="413" width="3" height="8" fill="#888888"/>
<rect x="303" y="413" width="9" height="8" fill="#4a4a4a"/>
<rect x="314" y="413" width="1" height="8" fill="#555555"/>
<rect x="322" y="413" width="2" height="8" fill="#999999"/>
<rect x="325" y="413" width="4" height="8" fill="#333333"/>
<rect x="329" y="413" width="1" height="8" fill="#aaaaaa"/>
<rect x="330" y="413" width="2" height="8" fill="#555555"/>
<rect x="334" y="413" width="5" height="8" fill="#444444"/>
<rect x="340" y="413" width="5" height="8" fill="#555555"/>
<rect x="346" y="413" width="5" height="8" fill="#444444"/>
<rect x="352" y="413" width="2" height="8" fill="#999999"/>
<rect x="357" y="413" width="1" height="8" fill="#444444"/>
<rect x="359" y="413" width="5" height="8" fill="#666666"/>
<rect x="367" y="413" width="3" height="8" fill="#555555"/>
<rect x="371" y="413" width="1" height="8" fill="#aaaaaa"/>
<rect x="374" y="413" width="3" height="8" fill="#555555"/>
<rect x="378" y="413" width="1" height="8" fill="#555555"/>
<rect x="383" y="413" width="3" height="8" fill="#444444"/>
<rect x="386" y="413" width="2" height="8" fill="#bbbbbb"/>
<rect x="389" y="413" width="13" height="8" fill="#666666"/>
<rect x="403" y="413" width="1" height="8" fill="#555555"/>
<rect x="405" y="413" width="1" height="8" fill="#444444"/>
<rect x="409" y="413" width="1" height="8" fill="#555555"/>
<rect x="413" y="413" width="3" height="8" fill="#777777"/>
<rect x="417" y="413" width="4" height="8" fill="#aaaaaa"/>
<rect x="421" y="413" width="4" height="8" fill="#555555"/>
<rect x="426" y="413" width="6" height="8" fill="#777777"/>
<rect x="433" y="413" width="4" height="8" fill="#777777"/>
<rect x="437" y="413" width="4" height="8" fill="#444444"/>
<rect x="442" y="413" width="2" height="8" fill="#aaaaaa"/>
<rect x="445" y="413" width="1" height="8" fill="#555555"/>
<rect x="448" y="413" width="1" height="8" fill="#555555"/>
<rect x="450" y="413" width="4" height="8" fill="#999999"/>
<rect x="455" y="413" width="10" height="8" fill="#999999"/>
<rect x="465" y="413" width="1" height="8" fill="#555555"/>
<rect x="467" y="413" width="2" height="8" fill="#555555"/>
<rect x="470" y="413" width="1" height="8" fill="#333333"/>
<rect x="473" y="413" width="1" height="8" fill="#777777"/>
<rect x="475" y="413" width="1" height="8" fill="#555555"/>
<rect x="477" y="413" width="2" height="8" fill="#999999"/>
<rect x="480" y="413" width="5" height="8" fill="#333333"/>
<rect x="485" y="413" width="3" height="8" fill="#777777"/>
<rect x="488" y="413" width="1" height="8" fill="#555555"/>
<rect x="492" y="413" width="3" height="8" fill="#444444"/>
<rect x="496" y="413" width="7" height="8" fill="#555555"/>
<rect x="504" y="413" width="3" height="8" fill="#999999"/>
<rect x="509" y="413" width="5" height="8" fill="#aaaaaa"/>
<rect x="515" y="413" width="2" height="8" fill="#777777"/>
<rect x="521" y="413" width="1" height="8" fill="#cccccc"/>
<rect x="522" y="413" width="6" height="8" fill="#333333"/>
<rect x="528" y="413" width="2" height="8" fill="#444444"/>
<rect x="530" y="413" width="3" height="8" fill="#222222"/>
<rect x="535" y="413" width="3" height="8" fill="#bbbbbb"/>
<rect x="538" y="413" width="7" height="8" fill="#666666"/>
<rect x="546" y="413" width="1" height="8" fill="#555555"/>
<rect x="551" y="413" width="3" height="8" fill="#555555"/>
<rect x="558" y="413" width="4" height="8" fill="#888888"/>
<rect x="562" y="413" width="1" height="8" fill="#bbbbbb"/>
<rect x="566" y="413" width="11" height="8" fill="#666666"/>
<rect x="578" y="413" width="6" height="8" fill="#909090"/>
<rect x="589" y="413" width="1" height="8" fill="#444444"/>
<rect x="593" y="413" width="3" height="8" fill="#333333"/>
<rect x="597" y="413" width="6" height="8" fill="#888888"/>
<rect x="604" y="413" width="5" height="8" fill="#555555"/>
<rect x="613" y="413" width="3" height="8" fill="#555555"/>
<rect x="618" y="413" width="1" height="8" fill="#aaaaaa"/>
<g fill="#0c0c78" transform="translate(73,423)"><use href="#c67" x="0"/><use href="#c104" x="6"/><use href="#c105" x="12"/><use href="#c99" x="18"/><use href="#c107" x="24"/><use href="#c101" x="30"/><use href="#c110" x="36"/></g>
<rect x="120" y="422" width="1" height="8" fill="#555555"/>
<rect x="125" y="422" width="2" height="8" fill="#333333"/>
<rect x="128" y="422" width="1" height="8" fill="#555555"/>
<rect x="140" y="422" width="6" height="8" fill="#909090"/>
<rect x="149" y="422" width="2" height="8" fill="#444444"/>
<rect x="153" y="422" width="1" height="8" fill="#555555"/>
<rect x="158" y="422" width="1" height="8" fill="#555555"/>
<rect x="166" y="422" width="2" height="8" fill="#333333"/>
<rect x="177" y="422" width="1" height="8" fill="#555555"/>
<rect x="180" y="422" width="2" height="8" fill="#888888"/>
<rect x="183" y="422" width="1" height="8" fill="#444444"/>
<rect x="184" y="422" width="2" height="8" fill="#111111"/>
<rect x="186" y="422" width="2" height="8" fill="#888888"/>
<rect x="188" y="422" width="1" height="8" fill="#444444"/>
<rect x="190" y="422" width="1" height="8" fill="#777777"/>
<rect x="199" y="422" width="1" height="8" fill="#444444"/>
<rect x="201" y="422" width="2" height="8" fill="#222222"/>
<rect x="206" y="422" width="1" height="8" fill="#555555"/>
<rect x="210" y="422" width="1" height="8" fill="#444444"/>
<rect x="214" y="422" width="1" height="8" fill="#555555"/>
<rect x="219" y="422" width="2" height="8" fill="#333333"/>
<rect x="222" y="422" width="2" height="8" fill="#333333"/>
<rect x="225" y="422" width="1" height="8" fill="#555555"/>
<rect x="231" y="422" width="1" height="8" fill="#555555"/>
<rect x="233" y="422" width="1" height="8" fill="#444444"/>
<rect x="238" y="422" width="6" height="8" fill="#888888"/>
<rect x="247" y="422" width="2" height="8" fill="#555555"/>
<rect x="252" y="422" width="3" height="8" fill="#555555"/>
<rect x="256" y="422" width="2" height="8" fill="#999999"/>
<rect x="259" y="422" width="4" height="8" fill="#888888"/>
<rect x="263" y="422" width="1" height="8" fill="#333333"/>
<rect x="270" y="422" width="5" height="8" fill="#555555"/>
<rect x="276" y="422" width="1" height="8" fill="#999999"/>
<rect x="282" y="422" width="1" height="8" fill="#555555"/>
<rect x="290" y="422" width="1" height="8" fill="#777777"/>
<rect x="293" y="422" width="3" height="8" fill="#aaaaaa"/>
<rect x="296" y="422" width="3" height="8" fill="#444444"/>
<rect x="299" y="422" width="5" height="8" fill="#aaaaaa"/>
<rect x="305" y="422" width="4" height="8" fill="#333333"/>
<rect x="309" y="422" width="2" height="8" fill="#888888"/>
<rect x="314" y="422" width="1" height="8" fill="#333333"/>
<rect x="321" y="422" width="2" height="8" fill="#555555"/>
<rect x="325" y="422" width="2" height="8" fill="#444444"/>
<rect x="327" y="422" width="2" height="8" fill="#111111"/>
<rect x="329" y="422" width="1" height="8" fill="#999999"/>
<rect x="330" y="422" width="1" height="8" fill="#555555"/>
<rect x="334" y="422" width="5" height="8" fill="#222222"/>
<rect x="340" y="422" width="1" height="8" fill="#aaaaaa"/>
<rect x="343" y="422" width="1" height="8" fill="#555555"/>
<rect x="346" y="422" width="3" height="8" fill="#444444"/>
<rect x="352" y="422" width="3" height="8" fill="#777777"/>
<rect x="357" y="422" width="1" height="8" fill="#555555"/>
<rect x="378" y="422" width="1" height="8" fill="#333333"/>
<rect x="383" y="422" width="11" height="8" fill="#555555"/>
<rect x="395" y="422" width="2" height="8" fill="#444444"/>
<rect x="398" y="422" width="6" height="8" fill="#555555"/>
<rect x="405" y="422" width="1" height="8" fill="#444444"/>
<rect x="407" y="422" width="1" height="8" fill="#999999"/>
<rect x="409" y="422" width="2" height="8" fill="#555555"/>
<rect x="413" y="422" width="2" height="8" fill="#777777"/>
<rect x="417" y="422" width="3" height="8" fill="#444444"/>
<rect x="420" y="422" width="5" height="8" fill="#aaaaaa"/>
<rect x="426" y="422" width="1" height="8" fill="#555555"/>
<rect x="428" y="422" width="2" height="8" fill="#777777"/>
<rect x="433" y="422" width="4" height="8" fill="#555555"/>
<rect x="438" y="422" width="2" height="8" fill="#777777"/>
<rect x="441" y="422" width="2" height="8" fill="#aaaaaa"/>
<rect x="449" y="422" width="1" height="8" fill="#555555"/>
<rect x="451" y="422" width="3" height="8" fill="#555555"/>
<rect x="455" y="422" width="1" height="8" fill="#555555"/>
<rect x="459" y="422" width="3" height="8" fill="#333333"/>
<rect x="462" y="422" width="1" height="8" fill="#999999"/>
<rect x="467" y="422" width="1" height="8" fill="#555555"/>
<rect x="473" y="422" width="1" height="8" fill="#777777"/>
<rect x="476" y="422" width="1" height="8" fill="#666666"/>
<rect x="478" y="422" width="3" height="8" fill="#555555"/>
<rect x="482" y="422" width="2" height="8" fill="#444444"/>
<rect x="484" y="422" width="2" height="8" fill="#bbbbbb"/>
<rect x="486" y="422" width="1" height="8" fill="#555555"/>
<rect x="488" y="422" width="2" height="8" fill="#555555"/>
<rect x="494" y="422" width="1" height="8" fill="#444444"/>
<rect x="496" y="422" width="2" height="8" fill="#555555"/>
<rect x="499" y="422" width="3" height="8" fill="#666666"/>
<rect x="504" y="422" width="1" height="8" fill="#444444"/>
<rect x="509" y="422" width="2" height="8" fill="#aaaaaa"/>
<rect x="512" y="422" width="4" height="8" fill="#666666"/>
<rect x="521" y="422" width="1" height="8" fill="#555555"/>
<rect x="523" y="422" width="3" height="8" fill="#222222"/>
<rect x="526" y="422" width="2" height="8" fill="#888888"/>
<rect x="530" y="422" width="2" height="8" fill="#222222"/>
<rect x="535" y="422" width="1" height="8" fill="#444444"/>
<rect x="540" y="422" width="5" height="8" fill="#aaaaaa"/>
<rect x="551" y="422" width="1" height="8" fill="#333333"/>
<rect x="553" y="422" width="2" height="8" fill="#333333"/>
<rect x="578" y="422" width="3" height="8" fill="#777777"/>
<rect x="582" y="422" width="2" height="8" fill="#aaaaaa"/>
<rect x="586" y="422" width="1" height="8" fill="#444444"/>
<rect x="589" y="422" width="2" height="8" fill="#888888"/>
<rect x="592" y="422" width="1" height="8" fill="#555555"/>
<rect x="594" y="422" width="1" height="8" fill="#777777"/>
<rect x="597" y="422" width="1" height="8" fill="#555555"/>
<rect x="600" y="422" width="3" height="8" fill="#555555"/>
<rect x="606" y="422" width="2" height="8" fill="#555555"/>
<rect x="610" y="422" width="1" height="8" fill="#777777"/>
<rect x="613" y="422" width="2" height="8" fill="#111111"/>
<g fill="#0c0c78" transform="translate(43,432)"><use href="#c88" x="0"/><use href="#c95" x="6"/><use href="#c116" x="12"/><use href="#c114" x="18"/><use href="#c111" x="24"/><use href="#c112" x="30"/><use href="#c105" x="36"/><use href="#c99" x="42"/><use href="#c97" x="48"/><use href="#c108" x="54"/><use href="#c105" x="60"/><use href="#c115" x="66"/></g>
<rect x="125" y="431" width="1" height="8" fill="#777777"/>
<rect x="128" y="431" width="1" height="8" fill="#555555"/>
<rect x="130" y="431" width="1" height="8" fill="#666666"/>
<rect x="132" y="431" width="1" height="8" fill="#555555"/>
<rect x="136" y="431" width="1" height="8" fill="#555555"/>
<rect x="138" y="431" width="1" height="8" fill="#444444"/>
<rect x="141" y="431" width="1" height="8" fill="#333333"/>
<rect x="143" y="431" width="1" height="8" fill="#444444"/>
<rect x="149" y="431" width="3" height="8" fill="#444444"/>
<rect x="154" y="431" width="2" height="8" fill="#888888"/>
<rect x="157" y="431" width="2" height="8" fill="#444444"/>
<rect x="180" y="431" width="2" height="8" fill="#888888"/>
<rect x="183" y="431" width="4" height="8" fill="#222222"/>
<rect x="187" y="431" width="1" height="8" fill="#555555"/>
<rect x="192" y="431" width="1" height="8" fill="#555555"/>
<rect x="199" y="431" width="1" height="8" fill="#444444"/>
<rect x="201" y="431" width="2" height="8" fill="#222222"/>
<rect x="206" y="431" width="1" height="8" fill="#555555"/>
<rect x="210" y="431" width="2" height="8" fill="#bbbbbb"/>
<rect x="219" y="431" width="1" height="8" fill="#777777"/>
<rect x="223" y="431" width="1" height="8" fill="#555555"/>
<rect x="229" y="431" width="2" height="8" fill="#333333"/>
<rect x="237" y="431" width="1" height="8" fill="#444444"/>
<rect x="240" y="431" width="2" height="8" fill="#999999"/>
<rect x="243" y="431" width="1" height="8" fill="#555555"/>
<rect x="252" y="431" width="4" height="8" fill="#777777"/>
<rect x="258" y="431" width="1" height="8" fill="#444444"/>
<rect x="260" y="431" width="2" height="8" fill="#aaaaaa"/>
<rect x="271" y="431" width="1" height="8" fill="#222222"/>
<rect x="286" y="431" width="2" height="8" fill="#555555"/>
<rect x="289" y="431" width="2" height="8" fill="#555555"/>
<rect x="294" y="431" width="1" height="8" fill="#555555"/>
<rect x="296" y="431" width="1" height="8" fill="#777777"/>
<rect x="298" y="431" width="2" height="8" fill="#555555"/>
<rect x="305" y="431" width="1" height="8" fill="#444444"/>
<rect x="308" y="431" width="3" height="8" fill="#555555"/>
<rect x="315" y="431" width="1" height="8" fill="#444444"/>
<rect x="321" y="431" width="1" height="8" fill="#555555"/>
<rect x="330" y="431" width="2" height="8" fill="#333333"/>
<rect x="334" y="431" width="3" height="8" fill="#333333"/>
<rect x="343" y="431" width="1" height="8" fill="#444444"/>
<rect x="346" y="431" width="3" height="8" fill="#555555"/>
<rect x="383" y="431" width="5" height="8" fill="#777777"/>
<rect x="389" y="431" width="2" height="8" fill="#444444"/>
<rect x="393" y="431" width="2" height="8" fill="#111111"/>
<rect x="396" y="431" width="1" height="8" fill="#333333"/>
<rect x="398" y="431" width="1" height="8" fill="#777777"/>
<rect x="405" y="431" width="1" height="8" fill="#444444"/>
<rect x="408" y="431" width="1" height="8" fill="#777777"/>
<rect x="413" y="431" width="2" height="8" fill="#555555"/>
<rect x="417" y="431" width="3" height="8" fill="#111111"/>
<rect x="421" y="431" width="3" height="8" fill="#222222"/>
<rect x="438" y="431" width="2" height="8" fill="#888888"/>
<rect x="445" y="431" width="1" height="8" fill="#bbbbbb"/>
<rect x="449" y="431" width="1" height="8" fill="#666666"/>
<rect x="451" y="431" width="2" height="8" fill="#999999"/>
<rect x="455" y="431" width="1" height="8" fill="#555555"/>
<rect x="459" y="431" width="3" height="8" fill="#999999"/>
<rect x="467" y="431" width="1" height="8" fill="#555555"/>
<rect x="478" y="431" width="1" height="8" fill="#555555"/>
<rect x="480" y="431" width="1" height="8" fill="#333333"/>
<rect x="482" y="431" width="1" height="8" fill="#444444"/>
<rect x="486" y="431" width="1" height="8" fill="#333333"/>
<rect x="494" y="431" width="1" height="8" fill="#555555"/>
<rect x="497" y="431" width="1" height="8" fill="#555555"/>
<rect x="504" y="431" width="1" height="8" fill="#333333"/>
<rect x="509" y="431" width="1" height="8" fill="#777777"/>
<rect x="513" y="431" width="1" height="8" fill="#555555"/>
<rect x="523" y="431" width="4" height="8" fill="#222222"/>
<rect x="530" y="431" width="2" height="8" fill="#222222"/>
<rect x="544" y="431" width="1" height="8" fill="#444444"/>
<rect x="553" y="431" width="1" height="8" fill="#333333"/>
<rect x="579" y="431" width="2" height="8" fill="#999999"/>
<rect x="597" y="431" width="1" height="8" fill="#555555"/>
<rect x="601" y="431" width="2" height="8" fill="#777777"/>
<rect x="606" y="431" width="2" height="8" fill="#444444"/>
<g fill="#0c0c78" transform="translate(61,441)"><use href="#c90" x="0"/><use href="#c101" x="6"/><use href="#c98" x="12"/><use href="#c114" x="18"/><use href="#c97" x="24"/><use href="#c102" x="30"/><use href="#c105" x="36"/><use href="#c115" x="42"/><use href="#c104" x="48"/></g>
<rect x="125" y="440" width="1" height="8" fill="#333333"/>
<rect x="141" y="440" width="1" height="8" fill="#444444"/>
<rect x="180" y="440" width="1" height="8" fill="#444444"/>
<rect x="183" y="440" width="2" height="8" fill="#222222"/>
<rect x="185" y="440" width="1" height="8" fill="#666666"/>
<rect x="186" y="440" width="2" height="8" fill="#aaaaaa"/>
<rect x="188" y="440" width="1" height="8" fill="#333333"/>
<rect x="210" y="440" width="2" height="8" fill="#cccccc"/>
<rect x="234" y="440" width="1" height="8" fill="#555555"/>
<rect x="238" y="440" width="1" height="8" fill="#333333"/>
<rect x="240" y="440" width="2" height="8" fill="#bbbbbb"/>
<rect x="252" y="440" width="1" height="8" fill="#777777"/>
<rect x="258" y="440" width="1" height="8" fill="#222222"/>
<rect x="260" y="440" width="1" height="8" fill="#555555"/>
<rect x="261" y="440" width="1" height="8" fill="#444444"/>
<rect x="310" y="440" width="1" height="8" fill="#555555"/>
<rect x="343" y="440" width="1" height="8" fill="#222222"/>
<rect x="383" y="440" width="1" height="8" fill="#444444"/>
<rect x="393" y="440" width="2" height="8" fill="#111111"/>
<rect x="419" y="440" width="1" height="8" fill="#555555"/>
<rect x="422" y="440" width="2" height="8" fill="#222222"/>
<rect x="459" y="440" width="1" height="8" fill="#555555"/>
<rect x="480" y="440" width="1" height="8" fill="#444444"/>
<rect x="523" y="440" width="2" height="8" fill="#666666"/>
<rect x="525" y="440" width="2" height="8" fill="#222222"/>
<rect x="530" y="440" width="1" height="8" fill="#555555"/>
<rect x="540" y="440" width="1" height="8" fill="#222222"/>
<rect x="544" y="440" width="1" height="8" fill="#777777"/>
<rect x="546" y="440" width="1" height="8" fill="#555555"/>
<rect x="579" y="440" width="1" height="8" fill="#333333"/>
</svg></body></html>
